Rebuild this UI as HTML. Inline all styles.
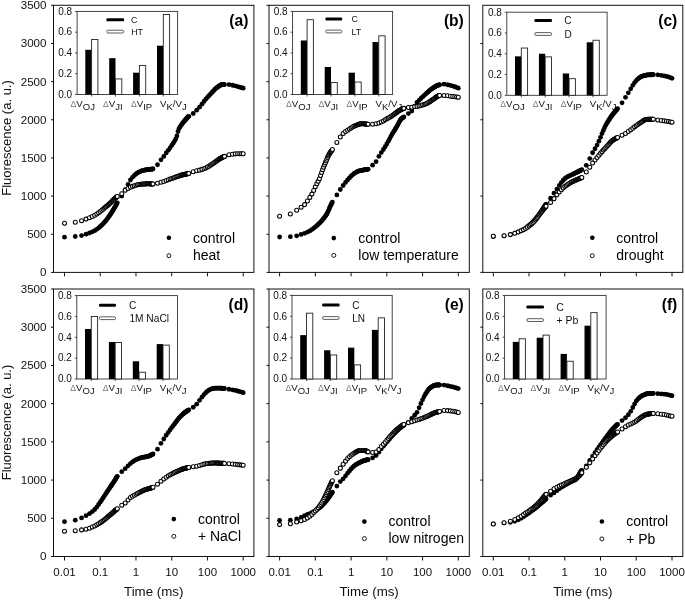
<!DOCTYPE html>
<html><head><meta charset="utf-8"><style>html,body{margin:0;padding:0;background:#fff}svg{display:block;filter:grayscale(1)}</style></head>
<body><svg width="685" height="600" viewBox="0 0 685 600" font-family="'Liberation Sans', sans-serif">
<rect width="685" height="600" fill="#fff"/>
<rect x="53.5" y="5.3" width="200.40" height="267.10" fill="none" stroke="#111" stroke-width="1"/>
<line x1="51.0" y1="272.40" x2="53.5" y2="272.40" stroke="#111" stroke-width="1"/>
<line x1="51.0" y1="234.24" x2="53.5" y2="234.24" stroke="#111" stroke-width="1"/>
<line x1="51.0" y1="196.09" x2="53.5" y2="196.09" stroke="#111" stroke-width="1"/>
<line x1="51.0" y1="157.93" x2="53.5" y2="157.93" stroke="#111" stroke-width="1"/>
<line x1="51.0" y1="119.77" x2="53.5" y2="119.77" stroke="#111" stroke-width="1"/>
<line x1="51.0" y1="81.61" x2="53.5" y2="81.61" stroke="#111" stroke-width="1"/>
<line x1="51.0" y1="43.46" x2="53.5" y2="43.46" stroke="#111" stroke-width="1"/>
<line x1="51.0" y1="5.30" x2="53.5" y2="5.30" stroke="#111" stroke-width="1"/>
<line x1="64.50" y1="272.4" x2="64.50" y2="276.4" stroke="#111" stroke-width="1"/>
<line x1="100.24" y1="272.4" x2="100.24" y2="276.4" stroke="#111" stroke-width="1"/>
<line x1="135.98" y1="272.4" x2="135.98" y2="276.4" stroke="#111" stroke-width="1"/>
<line x1="171.72" y1="272.4" x2="171.72" y2="276.4" stroke="#111" stroke-width="1"/>
<line x1="207.46" y1="272.4" x2="207.46" y2="276.4" stroke="#111" stroke-width="1"/>
<line x1="243.20" y1="272.4" x2="243.20" y2="276.4" stroke="#111" stroke-width="1"/>
<text x="248.4" y="26.1" text-anchor="end" font-size="15.6" font-weight="bold" fill="#000">(a)</text>
<rect x="269.0" y="5.3" width="200.30" height="267.10" fill="none" stroke="#111" stroke-width="1"/>
<line x1="266.5" y1="272.40" x2="269.0" y2="272.40" stroke="#111" stroke-width="1"/>
<line x1="266.5" y1="234.24" x2="269.0" y2="234.24" stroke="#111" stroke-width="1"/>
<line x1="266.5" y1="196.09" x2="269.0" y2="196.09" stroke="#111" stroke-width="1"/>
<line x1="266.5" y1="157.93" x2="269.0" y2="157.93" stroke="#111" stroke-width="1"/>
<line x1="266.5" y1="119.77" x2="269.0" y2="119.77" stroke="#111" stroke-width="1"/>
<line x1="266.5" y1="81.61" x2="269.0" y2="81.61" stroke="#111" stroke-width="1"/>
<line x1="266.5" y1="43.46" x2="269.0" y2="43.46" stroke="#111" stroke-width="1"/>
<line x1="266.5" y1="5.30" x2="269.0" y2="5.30" stroke="#111" stroke-width="1"/>
<line x1="279.60" y1="272.4" x2="279.60" y2="276.4" stroke="#111" stroke-width="1"/>
<line x1="315.34" y1="272.4" x2="315.34" y2="276.4" stroke="#111" stroke-width="1"/>
<line x1="351.08" y1="272.4" x2="351.08" y2="276.4" stroke="#111" stroke-width="1"/>
<line x1="386.82" y1="272.4" x2="386.82" y2="276.4" stroke="#111" stroke-width="1"/>
<line x1="422.56" y1="272.4" x2="422.56" y2="276.4" stroke="#111" stroke-width="1"/>
<line x1="458.30" y1="272.4" x2="458.30" y2="276.4" stroke="#111" stroke-width="1"/>
<text x="463.8" y="26.1" text-anchor="end" font-size="15.6" font-weight="bold" fill="#000">(b)</text>
<rect x="482.8" y="5.3" width="200.00" height="267.10" fill="none" stroke="#111" stroke-width="1"/>
<line x1="480.3" y1="272.40" x2="482.8" y2="272.40" stroke="#111" stroke-width="1"/>
<line x1="480.3" y1="196.09" x2="482.8" y2="196.09" stroke="#111" stroke-width="1"/>
<line x1="480.3" y1="119.77" x2="482.8" y2="119.77" stroke="#111" stroke-width="1"/>
<line x1="480.3" y1="43.46" x2="482.8" y2="43.46" stroke="#111" stroke-width="1"/>
<line x1="493.30" y1="272.4" x2="493.30" y2="276.4" stroke="#111" stroke-width="1"/>
<line x1="529.04" y1="272.4" x2="529.04" y2="276.4" stroke="#111" stroke-width="1"/>
<line x1="564.78" y1="272.4" x2="564.78" y2="276.4" stroke="#111" stroke-width="1"/>
<line x1="600.52" y1="272.4" x2="600.52" y2="276.4" stroke="#111" stroke-width="1"/>
<line x1="636.26" y1="272.4" x2="636.26" y2="276.4" stroke="#111" stroke-width="1"/>
<line x1="672.00" y1="272.4" x2="672.00" y2="276.4" stroke="#111" stroke-width="1"/>
<text x="677.3" y="26.1" text-anchor="end" font-size="15.6" font-weight="bold" fill="#000">(c)</text>
<rect x="53.5" y="289.0" width="200.40" height="267.50" fill="none" stroke="#111" stroke-width="1"/>
<line x1="51.0" y1="556.50" x2="53.5" y2="556.50" stroke="#111" stroke-width="1"/>
<line x1="51.0" y1="518.29" x2="53.5" y2="518.29" stroke="#111" stroke-width="1"/>
<line x1="51.0" y1="480.07" x2="53.5" y2="480.07" stroke="#111" stroke-width="1"/>
<line x1="51.0" y1="441.86" x2="53.5" y2="441.86" stroke="#111" stroke-width="1"/>
<line x1="51.0" y1="403.64" x2="53.5" y2="403.64" stroke="#111" stroke-width="1"/>
<line x1="51.0" y1="365.43" x2="53.5" y2="365.43" stroke="#111" stroke-width="1"/>
<line x1="51.0" y1="327.21" x2="53.5" y2="327.21" stroke="#111" stroke-width="1"/>
<line x1="51.0" y1="289.00" x2="53.5" y2="289.00" stroke="#111" stroke-width="1"/>
<line x1="64.50" y1="556.5" x2="64.50" y2="560.5" stroke="#111" stroke-width="1"/>
<line x1="100.24" y1="556.5" x2="100.24" y2="560.5" stroke="#111" stroke-width="1"/>
<line x1="135.98" y1="556.5" x2="135.98" y2="560.5" stroke="#111" stroke-width="1"/>
<line x1="171.72" y1="556.5" x2="171.72" y2="560.5" stroke="#111" stroke-width="1"/>
<line x1="207.46" y1="556.5" x2="207.46" y2="560.5" stroke="#111" stroke-width="1"/>
<line x1="243.20" y1="556.5" x2="243.20" y2="560.5" stroke="#111" stroke-width="1"/>
<text x="248.4" y="309.8" text-anchor="end" font-size="15.6" font-weight="bold" fill="#000">(d)</text>
<rect x="269.0" y="289.0" width="200.30" height="267.50" fill="none" stroke="#111" stroke-width="1"/>
<line x1="266.5" y1="556.50" x2="269.0" y2="556.50" stroke="#111" stroke-width="1"/>
<line x1="266.5" y1="518.29" x2="269.0" y2="518.29" stroke="#111" stroke-width="1"/>
<line x1="266.5" y1="480.07" x2="269.0" y2="480.07" stroke="#111" stroke-width="1"/>
<line x1="266.5" y1="441.86" x2="269.0" y2="441.86" stroke="#111" stroke-width="1"/>
<line x1="266.5" y1="403.64" x2="269.0" y2="403.64" stroke="#111" stroke-width="1"/>
<line x1="266.5" y1="365.43" x2="269.0" y2="365.43" stroke="#111" stroke-width="1"/>
<line x1="266.5" y1="327.21" x2="269.0" y2="327.21" stroke="#111" stroke-width="1"/>
<line x1="266.5" y1="289.00" x2="269.0" y2="289.00" stroke="#111" stroke-width="1"/>
<line x1="279.60" y1="556.5" x2="279.60" y2="560.5" stroke="#111" stroke-width="1"/>
<line x1="315.34" y1="556.5" x2="315.34" y2="560.5" stroke="#111" stroke-width="1"/>
<line x1="351.08" y1="556.5" x2="351.08" y2="560.5" stroke="#111" stroke-width="1"/>
<line x1="386.82" y1="556.5" x2="386.82" y2="560.5" stroke="#111" stroke-width="1"/>
<line x1="422.56" y1="556.5" x2="422.56" y2="560.5" stroke="#111" stroke-width="1"/>
<line x1="458.30" y1="556.5" x2="458.30" y2="560.5" stroke="#111" stroke-width="1"/>
<text x="463.8" y="309.8" text-anchor="end" font-size="15.6" font-weight="bold" fill="#000">(e)</text>
<rect x="482.8" y="289.0" width="200.00" height="267.50" fill="none" stroke="#111" stroke-width="1"/>
<line x1="480.3" y1="556.50" x2="482.8" y2="556.50" stroke="#111" stroke-width="1"/>
<line x1="480.3" y1="480.07" x2="482.8" y2="480.07" stroke="#111" stroke-width="1"/>
<line x1="480.3" y1="403.64" x2="482.8" y2="403.64" stroke="#111" stroke-width="1"/>
<line x1="480.3" y1="327.21" x2="482.8" y2="327.21" stroke="#111" stroke-width="1"/>
<line x1="493.30" y1="556.5" x2="493.30" y2="560.5" stroke="#111" stroke-width="1"/>
<line x1="529.04" y1="556.5" x2="529.04" y2="560.5" stroke="#111" stroke-width="1"/>
<line x1="564.78" y1="556.5" x2="564.78" y2="560.5" stroke="#111" stroke-width="1"/>
<line x1="600.52" y1="556.5" x2="600.52" y2="560.5" stroke="#111" stroke-width="1"/>
<line x1="636.26" y1="556.5" x2="636.26" y2="560.5" stroke="#111" stroke-width="1"/>
<line x1="672.00" y1="556.5" x2="672.00" y2="560.5" stroke="#111" stroke-width="1"/>
<text x="677.3" y="309.8" text-anchor="end" font-size="15.6" font-weight="bold" fill="#000">(f)</text>
<text x="46.5" y="276.30" text-anchor="end" font-size="11.6" fill="#111">0</text>
<text x="46.5" y="238.14" text-anchor="end" font-size="11.6" fill="#111">500</text>
<text x="46.5" y="199.99" text-anchor="end" font-size="11.6" fill="#111">1000</text>
<text x="46.5" y="161.83" text-anchor="end" font-size="11.6" fill="#111">1500</text>
<text x="46.5" y="123.67" text-anchor="end" font-size="11.6" fill="#111">2000</text>
<text x="46.5" y="85.51" text-anchor="end" font-size="11.6" fill="#111">2500</text>
<text x="46.5" y="47.36" text-anchor="end" font-size="11.6" fill="#111">3000</text>
<text x="46.5" y="9.20" text-anchor="end" font-size="11.6" fill="#111">3500</text>
<text x="46.5" y="560.40" text-anchor="end" font-size="11.6" fill="#111">0</text>
<text x="46.5" y="522.19" text-anchor="end" font-size="11.6" fill="#111">500</text>
<text x="46.5" y="483.97" text-anchor="end" font-size="11.6" fill="#111">1000</text>
<text x="46.5" y="445.76" text-anchor="end" font-size="11.6" fill="#111">1500</text>
<text x="46.5" y="407.54" text-anchor="end" font-size="11.6" fill="#111">2000</text>
<text x="46.5" y="369.33" text-anchor="end" font-size="11.6" fill="#111">2500</text>
<text x="46.5" y="331.11" text-anchor="end" font-size="11.6" fill="#111">3000</text>
<text x="46.5" y="292.90" text-anchor="end" font-size="11.6" fill="#111">3500</text>
<text transform="translate(11.4,138) rotate(-90)" text-anchor="middle" font-size="13" fill="#111">Fluorescence (a. u.)</text>
<text transform="translate(11.4,422.5) rotate(-90)" text-anchor="middle" font-size="13" fill="#111">Fluorescence (a. u.)</text>
<text x="64.50" y="575.7" text-anchor="middle" font-size="11.5" fill="#111">0.01</text>
<text x="100.24" y="575.7" text-anchor="middle" font-size="11.5" fill="#111">0.1</text>
<text x="135.98" y="575.7" text-anchor="middle" font-size="11.5" fill="#111">1</text>
<text x="171.72" y="575.7" text-anchor="middle" font-size="11.5" fill="#111">10</text>
<text x="207.46" y="575.7" text-anchor="middle" font-size="11.5" fill="#111">100</text>
<text x="243.20" y="575.7" text-anchor="middle" font-size="11.5" fill="#111">1000</text>
<text x="153.70" y="596" text-anchor="middle" font-size="13.3" fill="#111">Time (ms)</text>
<text x="279.60" y="575.7" text-anchor="middle" font-size="11.5" fill="#111">0.01</text>
<text x="315.34" y="575.7" text-anchor="middle" font-size="11.5" fill="#111">0.1</text>
<text x="351.08" y="575.7" text-anchor="middle" font-size="11.5" fill="#111">1</text>
<text x="386.82" y="575.7" text-anchor="middle" font-size="11.5" fill="#111">10</text>
<text x="422.56" y="575.7" text-anchor="middle" font-size="11.5" fill="#111">100</text>
<text x="458.30" y="575.7" text-anchor="middle" font-size="11.5" fill="#111">1000</text>
<text x="369.15" y="596" text-anchor="middle" font-size="13.3" fill="#111">Time (ms)</text>
<text x="493.30" y="575.7" text-anchor="middle" font-size="11.5" fill="#111">0.01</text>
<text x="529.04" y="575.7" text-anchor="middle" font-size="11.5" fill="#111">0.1</text>
<text x="564.78" y="575.7" text-anchor="middle" font-size="11.5" fill="#111">1</text>
<text x="600.52" y="575.7" text-anchor="middle" font-size="11.5" fill="#111">10</text>
<text x="636.26" y="575.7" text-anchor="middle" font-size="11.5" fill="#111">100</text>
<text x="672.00" y="575.7" text-anchor="middle" font-size="11.5" fill="#111">1000</text>
<text x="582.80" y="596" text-anchor="middle" font-size="13.3" fill="#111">Time (ms)</text>
<rect x="77.1" y="11.4" width="100.5" height="83.1" fill="none" stroke="#333" stroke-width="0.9"/>
<line x1="75.1" y1="94.50" x2="77.1" y2="94.50" stroke="#333" stroke-width="0.9"/>
<text x="72.20" y="97.80" text-anchor="end" font-size="10" fill="#111">0.0</text>
<line x1="75.1" y1="73.72" x2="77.1" y2="73.72" stroke="#333" stroke-width="0.9"/>
<text x="72.20" y="77.02" text-anchor="end" font-size="10" fill="#111">0.2</text>
<line x1="75.1" y1="52.95" x2="77.1" y2="52.95" stroke="#333" stroke-width="0.9"/>
<text x="72.20" y="56.25" text-anchor="end" font-size="10" fill="#111">0.4</text>
<line x1="75.1" y1="32.17" x2="77.1" y2="32.17" stroke="#333" stroke-width="0.9"/>
<text x="72.20" y="35.47" text-anchor="end" font-size="10" fill="#111">0.6</text>
<line x1="75.1" y1="11.40" x2="77.1" y2="11.40" stroke="#333" stroke-width="0.9"/>
<text x="72.20" y="14.70" text-anchor="end" font-size="10" fill="#111">0.8</text>
<rect x="85.30" y="49.83" width="6.3" height="44.67" fill="#000"/>
<rect x="91.60" y="39.45" width="6.3" height="55.05" fill="#fff" stroke="#222" stroke-width="0.9"/>
<line x1="91.60" y1="94.5" x2="91.60" y2="96.5" stroke="#333" stroke-width="0.9"/>
<rect x="109.20" y="58.14" width="6.3" height="36.36" fill="#000"/>
<rect x="115.50" y="78.92" width="6.3" height="15.58" fill="#fff" stroke="#222" stroke-width="0.9"/>
<line x1="115.50" y1="94.5" x2="115.50" y2="96.5" stroke="#333" stroke-width="0.9"/>
<rect x="133.10" y="72.69" width="6.3" height="21.81" fill="#000"/>
<rect x="139.40" y="65.42" width="6.3" height="29.08" fill="#fff" stroke="#222" stroke-width="0.9"/>
<line x1="139.40" y1="94.5" x2="139.40" y2="96.5" stroke="#333" stroke-width="0.9"/>
<rect x="157.00" y="45.68" width="6.3" height="48.82" fill="#000"/>
<rect x="163.30" y="14.52" width="6.3" height="79.98" fill="#fff" stroke="#222" stroke-width="0.9"/>
<line x1="163.30" y1="94.5" x2="163.30" y2="96.5" stroke="#333" stroke-width="0.9"/>
<rect x="106.4" y="18.35" width="17.70" height="3" rx="1.2" fill="#000"/>
<rect x="106.80000000000001" y="30.20" width="16.90" height="2.8" rx="1.3" fill="#fff" stroke="#333" stroke-width="0.8"/>
<text x="130.90" y="23.22" font-size="8.8" fill="#111">C</text>
<text x="131.20" y="34.97" font-size="8.8" fill="#111">HT</text>
<text x="70.60" y="106.50" font-size="9.7" fill="#111"><tspan font-size="8.6" fill="#777">&#916;</tspan><tspan>V</tspan><tspan dy="3.1" font-size="9.5">OJ</tspan></text>
<text x="103.10" y="106.50" font-size="9.7" fill="#111"><tspan font-size="8.6" fill="#777">&#916;</tspan><tspan>V</tspan><tspan dy="3.1" font-size="9.5">JI</tspan></text>
<text x="131.00" y="106.50" font-size="9.7" fill="#111"><tspan font-size="8.6" fill="#777">&#916;</tspan><tspan>V</tspan><tspan dy="3.1" font-size="9.5">IP</tspan></text>
<text x="160.00" y="106.50" font-size="9.7" fill="#111">V<tspan dy="3.1" font-size="9.5">K</tspan><tspan dy="-3.1">/V</tspan><tspan dy="3.1" font-size="9.5">J</tspan></text>
<rect x="292.6" y="11.4" width="100.0" height="83.1" fill="none" stroke="#333" stroke-width="0.9"/>
<line x1="290.6" y1="94.50" x2="292.6" y2="94.50" stroke="#333" stroke-width="0.9"/>
<text x="287.70" y="97.80" text-anchor="end" font-size="10" fill="#111">0.0</text>
<line x1="290.6" y1="73.72" x2="292.6" y2="73.72" stroke="#333" stroke-width="0.9"/>
<text x="287.70" y="77.02" text-anchor="end" font-size="10" fill="#111">0.2</text>
<line x1="290.6" y1="52.95" x2="292.6" y2="52.95" stroke="#333" stroke-width="0.9"/>
<text x="287.70" y="56.25" text-anchor="end" font-size="10" fill="#111">0.4</text>
<line x1="290.6" y1="32.17" x2="292.6" y2="32.17" stroke="#333" stroke-width="0.9"/>
<text x="287.70" y="35.47" text-anchor="end" font-size="10" fill="#111">0.6</text>
<line x1="290.6" y1="11.40" x2="292.6" y2="11.40" stroke="#333" stroke-width="0.9"/>
<text x="287.70" y="14.70" text-anchor="end" font-size="10" fill="#111">0.8</text>
<rect x="300.80" y="40.49" width="6.3" height="54.01" fill="#000"/>
<rect x="307.10" y="19.71" width="6.3" height="74.79" fill="#fff" stroke="#222" stroke-width="0.9"/>
<line x1="307.10" y1="94.5" x2="307.10" y2="96.5" stroke="#333" stroke-width="0.9"/>
<rect x="324.70" y="66.97" width="6.3" height="27.53" fill="#000"/>
<rect x="331.00" y="82.55" width="6.3" height="11.95" fill="#fff" stroke="#222" stroke-width="0.9"/>
<line x1="331.00" y1="94.5" x2="331.00" y2="96.5" stroke="#333" stroke-width="0.9"/>
<rect x="348.60" y="72.69" width="6.3" height="21.81" fill="#000"/>
<rect x="354.90" y="82.03" width="6.3" height="12.46" fill="#fff" stroke="#222" stroke-width="0.9"/>
<line x1="354.90" y1="94.5" x2="354.90" y2="96.5" stroke="#333" stroke-width="0.9"/>
<rect x="372.50" y="42.04" width="6.3" height="52.46" fill="#000"/>
<rect x="378.80" y="35.81" width="6.3" height="58.69" fill="#fff" stroke="#222" stroke-width="0.9"/>
<line x1="378.80" y1="94.5" x2="378.80" y2="96.5" stroke="#333" stroke-width="0.9"/>
<rect x="325.4" y="17.50" width="16.80" height="3" rx="1.2" fill="#000"/>
<rect x="325.79999999999995" y="30.10" width="16.00" height="2.8" rx="1.3" fill="#fff" stroke="#333" stroke-width="0.8"/>
<text x="351.50" y="22.40" font-size="8.9" fill="#111">C</text>
<text x="351.50" y="34.90" font-size="8.9" fill="#111">LT</text>
<text x="286.10" y="106.50" font-size="9.7" fill="#111"><tspan font-size="8.6" fill="#777">&#916;</tspan><tspan>V</tspan><tspan dy="3.1" font-size="9.5">OJ</tspan></text>
<text x="318.60" y="106.50" font-size="9.7" fill="#111"><tspan font-size="8.6" fill="#777">&#916;</tspan><tspan>V</tspan><tspan dy="3.1" font-size="9.5">JI</tspan></text>
<text x="346.50" y="106.50" font-size="9.7" fill="#111"><tspan font-size="8.6" fill="#777">&#916;</tspan><tspan>V</tspan><tspan dy="3.1" font-size="9.5">IP</tspan></text>
<text x="375.50" y="106.50" font-size="9.7" fill="#111">V<tspan dy="3.1" font-size="9.5">K</tspan><tspan dy="-3.1">/V</tspan><tspan dy="3.1" font-size="9.5">J</tspan></text>
<rect x="506.8" y="12.2" width="100.3" height="83.1" fill="none" stroke="#333" stroke-width="0.9"/>
<line x1="504.8" y1="95.30" x2="506.8" y2="95.30" stroke="#333" stroke-width="0.9"/>
<text x="501.90" y="98.60" text-anchor="end" font-size="10" fill="#111">0.0</text>
<line x1="504.8" y1="74.53" x2="506.8" y2="74.53" stroke="#333" stroke-width="0.9"/>
<text x="501.90" y="77.83" text-anchor="end" font-size="10" fill="#111">0.2</text>
<line x1="504.8" y1="53.75" x2="506.8" y2="53.75" stroke="#333" stroke-width="0.9"/>
<text x="501.90" y="57.05" text-anchor="end" font-size="10" fill="#111">0.4</text>
<line x1="504.8" y1="32.97" x2="506.8" y2="32.97" stroke="#333" stroke-width="0.9"/>
<text x="501.90" y="36.27" text-anchor="end" font-size="10" fill="#111">0.6</text>
<line x1="504.8" y1="12.20" x2="506.8" y2="12.20" stroke="#333" stroke-width="0.9"/>
<text x="501.90" y="15.50" text-anchor="end" font-size="10" fill="#111">0.8</text>
<rect x="515.00" y="56.35" width="6.3" height="38.95" fill="#000"/>
<rect x="521.30" y="48.04" width="6.3" height="47.26" fill="#fff" stroke="#222" stroke-width="0.9"/>
<line x1="521.30" y1="95.3" x2="521.30" y2="97.3" stroke="#333" stroke-width="0.9"/>
<rect x="538.90" y="53.75" width="6.3" height="41.55" fill="#000"/>
<rect x="545.20" y="56.87" width="6.3" height="38.43" fill="#fff" stroke="#222" stroke-width="0.9"/>
<line x1="545.20" y1="95.3" x2="545.20" y2="97.3" stroke="#333" stroke-width="0.9"/>
<rect x="562.80" y="73.49" width="6.3" height="21.81" fill="#000"/>
<rect x="569.10" y="78.68" width="6.3" height="16.62" fill="#fff" stroke="#222" stroke-width="0.9"/>
<line x1="569.10" y1="95.3" x2="569.10" y2="97.3" stroke="#333" stroke-width="0.9"/>
<rect x="586.70" y="42.32" width="6.3" height="52.98" fill="#000"/>
<rect x="593.00" y="40.25" width="6.3" height="55.05" fill="#fff" stroke="#222" stroke-width="0.9"/>
<line x1="593.00" y1="95.3" x2="593.00" y2="97.3" stroke="#333" stroke-width="0.9"/>
<rect x="534.4" y="18.90" width="17.60" height="3" rx="1.2" fill="#000"/>
<rect x="534.8" y="32.60" width="16.80" height="2.8" rx="1.3" fill="#fff" stroke="#333" stroke-width="0.8"/>
<text x="564.20" y="24.20" font-size="10.0" fill="#111">C</text>
<text x="564.40" y="37.80" font-size="10.0" fill="#111">D</text>
<text x="500.30" y="107.30" font-size="9.7" fill="#111"><tspan font-size="8.6" fill="#777">&#916;</tspan><tspan>V</tspan><tspan dy="3.1" font-size="9.5">OJ</tspan></text>
<text x="532.80" y="107.30" font-size="9.7" fill="#111"><tspan font-size="8.6" fill="#777">&#916;</tspan><tspan>V</tspan><tspan dy="3.1" font-size="9.5">JI</tspan></text>
<text x="560.70" y="107.30" font-size="9.7" fill="#111"><tspan font-size="8.6" fill="#777">&#916;</tspan><tspan>V</tspan><tspan dy="3.1" font-size="9.5">IP</tspan></text>
<text x="589.70" y="107.30" font-size="9.7" fill="#111">V<tspan dy="3.1" font-size="9.5">K</tspan><tspan dy="-3.1">/V</tspan><tspan dy="3.1" font-size="9.5">J</tspan></text>
<rect x="76.8" y="295.6" width="100.7" height="83.4" fill="none" stroke="#333" stroke-width="0.9"/>
<line x1="74.8" y1="379.00" x2="76.8" y2="379.00" stroke="#333" stroke-width="0.9"/>
<text x="71.90" y="382.30" text-anchor="end" font-size="10" fill="#111">0.0</text>
<line x1="74.8" y1="358.15" x2="76.8" y2="358.15" stroke="#333" stroke-width="0.9"/>
<text x="71.90" y="361.45" text-anchor="end" font-size="10" fill="#111">0.2</text>
<line x1="74.8" y1="337.30" x2="76.8" y2="337.30" stroke="#333" stroke-width="0.9"/>
<text x="71.90" y="340.60" text-anchor="end" font-size="10" fill="#111">0.4</text>
<line x1="74.8" y1="316.45" x2="76.8" y2="316.45" stroke="#333" stroke-width="0.9"/>
<text x="71.90" y="319.75" text-anchor="end" font-size="10" fill="#111">0.6</text>
<line x1="74.8" y1="295.60" x2="76.8" y2="295.60" stroke="#333" stroke-width="0.9"/>
<text x="71.90" y="298.90" text-anchor="end" font-size="10" fill="#111">0.8</text>
<rect x="85.00" y="328.96" width="6.3" height="50.04" fill="#000"/>
<rect x="91.30" y="316.45" width="6.3" height="62.55" fill="#fff" stroke="#222" stroke-width="0.9"/>
<line x1="91.30" y1="379.0" x2="91.30" y2="381.0" stroke="#333" stroke-width="0.9"/>
<rect x="108.90" y="341.99" width="6.3" height="37.01" fill="#000"/>
<rect x="115.20" y="342.51" width="6.3" height="36.49" fill="#fff" stroke="#222" stroke-width="0.9"/>
<line x1="115.20" y1="379.0" x2="115.20" y2="381.0" stroke="#333" stroke-width="0.9"/>
<rect x="132.80" y="361.28" width="6.3" height="17.72" fill="#000"/>
<rect x="139.10" y="372.22" width="6.3" height="6.78" fill="#fff" stroke="#222" stroke-width="0.9"/>
<line x1="139.10" y1="379.0" x2="139.10" y2="381.0" stroke="#333" stroke-width="0.9"/>
<rect x="156.70" y="344.08" width="6.3" height="34.92" fill="#000"/>
<rect x="163.00" y="345.12" width="6.3" height="33.88" fill="#fff" stroke="#222" stroke-width="0.9"/>
<line x1="163.00" y1="379.0" x2="163.00" y2="381.0" stroke="#333" stroke-width="0.9"/>
<rect x="99" y="303.70" width="17.00" height="3" rx="1.2" fill="#000"/>
<rect x="99.4" y="316.80" width="16.20" height="2.8" rx="1.3" fill="#fff" stroke="#333" stroke-width="0.8"/>
<text x="129.00" y="309.07" font-size="10.2" fill="#111">C</text>
<text x="129.40" y="322.07" font-size="10.2" fill="#111">1M NaCl</text>
<text x="70.30" y="391.00" font-size="9.7" fill="#111"><tspan font-size="8.6" fill="#777">&#916;</tspan><tspan>V</tspan><tspan dy="3.1" font-size="9.5">OJ</tspan></text>
<text x="102.80" y="391.00" font-size="9.7" fill="#111"><tspan font-size="8.6" fill="#777">&#916;</tspan><tspan>V</tspan><tspan dy="3.1" font-size="9.5">JI</tspan></text>
<text x="130.70" y="391.00" font-size="9.7" fill="#111"><tspan font-size="8.6" fill="#777">&#916;</tspan><tspan>V</tspan><tspan dy="3.1" font-size="9.5">IP</tspan></text>
<text x="159.70" y="391.00" font-size="9.7" fill="#111">V<tspan dy="3.1" font-size="9.5">K</tspan><tspan dy="-3.1">/V</tspan><tspan dy="3.1" font-size="9.5">J</tspan></text>
<rect x="292.0" y="295.4" width="100.2" height="83.6" fill="none" stroke="#333" stroke-width="0.9"/>
<line x1="290.0" y1="379.00" x2="292.0" y2="379.00" stroke="#333" stroke-width="0.9"/>
<text x="287.10" y="382.30" text-anchor="end" font-size="10" fill="#111">0.0</text>
<line x1="290.0" y1="358.10" x2="292.0" y2="358.10" stroke="#333" stroke-width="0.9"/>
<text x="287.10" y="361.40" text-anchor="end" font-size="10" fill="#111">0.2</text>
<line x1="290.0" y1="337.20" x2="292.0" y2="337.20" stroke="#333" stroke-width="0.9"/>
<text x="287.10" y="340.50" text-anchor="end" font-size="10" fill="#111">0.4</text>
<line x1="290.0" y1="316.30" x2="292.0" y2="316.30" stroke="#333" stroke-width="0.9"/>
<text x="287.10" y="319.60" text-anchor="end" font-size="10" fill="#111">0.6</text>
<line x1="290.0" y1="295.40" x2="292.0" y2="295.40" stroke="#333" stroke-width="0.9"/>
<text x="287.10" y="298.70" text-anchor="end" font-size="10" fill="#111">0.8</text>
<rect x="300.20" y="335.11" width="6.3" height="43.89" fill="#000"/>
<rect x="306.50" y="313.17" width="6.3" height="65.83" fill="#fff" stroke="#222" stroke-width="0.9"/>
<line x1="306.50" y1="379.0" x2="306.50" y2="381.0" stroke="#333" stroke-width="0.9"/>
<rect x="324.10" y="350.26" width="6.3" height="28.74" fill="#000"/>
<rect x="330.40" y="354.97" width="6.3" height="24.03" fill="#fff" stroke="#222" stroke-width="0.9"/>
<line x1="330.40" y1="379.0" x2="330.40" y2="381.0" stroke="#333" stroke-width="0.9"/>
<rect x="348.00" y="347.65" width="6.3" height="31.35" fill="#000"/>
<rect x="354.30" y="364.89" width="6.3" height="14.11" fill="#fff" stroke="#222" stroke-width="0.9"/>
<line x1="354.30" y1="379.0" x2="354.30" y2="381.0" stroke="#333" stroke-width="0.9"/>
<rect x="371.90" y="329.88" width="6.3" height="49.11" fill="#000"/>
<rect x="378.20" y="317.87" width="6.3" height="61.13" fill="#fff" stroke="#222" stroke-width="0.9"/>
<line x1="378.20" y1="379.0" x2="378.20" y2="381.0" stroke="#333" stroke-width="0.9"/>
<rect x="322.1" y="303.50" width="17.50" height="3" rx="1.2" fill="#000"/>
<rect x="322.5" y="316.60" width="16.70" height="2.8" rx="1.3" fill="#fff" stroke="#333" stroke-width="0.8"/>
<text x="352.20" y="308.80" font-size="10.0" fill="#111">C</text>
<text x="352.20" y="321.80" font-size="10.0" fill="#111">LN</text>
<text x="285.50" y="391.00" font-size="9.7" fill="#111"><tspan font-size="8.6" fill="#777">&#916;</tspan><tspan>V</tspan><tspan dy="3.1" font-size="9.5">OJ</tspan></text>
<text x="318.00" y="391.00" font-size="9.7" fill="#111"><tspan font-size="8.6" fill="#777">&#916;</tspan><tspan>V</tspan><tspan dy="3.1" font-size="9.5">JI</tspan></text>
<text x="345.90" y="391.00" font-size="9.7" fill="#111"><tspan font-size="8.6" fill="#777">&#916;</tspan><tspan>V</tspan><tspan dy="3.1" font-size="9.5">IP</tspan></text>
<text x="374.90" y="391.00" font-size="9.7" fill="#111">V<tspan dy="3.1" font-size="9.5">K</tspan><tspan dy="-3.1">/V</tspan><tspan dy="3.1" font-size="9.5">J</tspan></text>
<rect x="504.6" y="295.4" width="101.5" height="83.6" fill="none" stroke="#333" stroke-width="0.9"/>
<line x1="502.6" y1="379.00" x2="504.6" y2="379.00" stroke="#333" stroke-width="0.9"/>
<text x="499.70" y="382.30" text-anchor="end" font-size="10" fill="#111">0.0</text>
<line x1="502.6" y1="358.10" x2="504.6" y2="358.10" stroke="#333" stroke-width="0.9"/>
<text x="499.70" y="361.40" text-anchor="end" font-size="10" fill="#111">0.2</text>
<line x1="502.6" y1="337.20" x2="504.6" y2="337.20" stroke="#333" stroke-width="0.9"/>
<text x="499.70" y="340.50" text-anchor="end" font-size="10" fill="#111">0.4</text>
<line x1="502.6" y1="316.30" x2="504.6" y2="316.30" stroke="#333" stroke-width="0.9"/>
<text x="499.70" y="319.60" text-anchor="end" font-size="10" fill="#111">0.6</text>
<line x1="502.6" y1="295.40" x2="504.6" y2="295.40" stroke="#333" stroke-width="0.9"/>
<text x="499.70" y="298.70" text-anchor="end" font-size="10" fill="#111">0.8</text>
<rect x="512.80" y="341.90" width="6.3" height="37.10" fill="#000"/>
<rect x="519.10" y="338.77" width="6.3" height="40.23" fill="#fff" stroke="#222" stroke-width="0.9"/>
<line x1="519.10" y1="379.0" x2="519.10" y2="381.0" stroke="#333" stroke-width="0.9"/>
<rect x="536.70" y="337.72" width="6.3" height="41.28" fill="#000"/>
<rect x="543.00" y="335.11" width="6.3" height="43.89" fill="#fff" stroke="#222" stroke-width="0.9"/>
<line x1="543.00" y1="379.0" x2="543.00" y2="381.0" stroke="#333" stroke-width="0.9"/>
<rect x="560.60" y="353.92" width="6.3" height="25.08" fill="#000"/>
<rect x="566.90" y="361.24" width="6.3" height="17.77" fill="#fff" stroke="#222" stroke-width="0.9"/>
<line x1="566.90" y1="379.0" x2="566.90" y2="381.0" stroke="#333" stroke-width="0.9"/>
<rect x="584.50" y="325.70" width="6.3" height="53.29" fill="#000"/>
<rect x="590.80" y="312.64" width="6.3" height="66.36" fill="#fff" stroke="#222" stroke-width="0.9"/>
<line x1="590.80" y1="379.0" x2="590.80" y2="381.0" stroke="#333" stroke-width="0.9"/>
<rect x="526.4" y="305.50" width="17.60" height="3" rx="1.2" fill="#000"/>
<rect x="526.8" y="318.70" width="16.80" height="2.8" rx="1.3" fill="#fff" stroke="#333" stroke-width="0.8"/>
<text x="556.20" y="310.98" font-size="10.5" fill="#111">C</text>
<text x="556.40" y="324.08" font-size="10.5" fill="#111">+ Pb</text>
<text x="498.10" y="391.00" font-size="9.7" fill="#111"><tspan font-size="8.6" fill="#777">&#916;</tspan><tspan>V</tspan><tspan dy="3.1" font-size="9.5">OJ</tspan></text>
<text x="530.60" y="391.00" font-size="9.7" fill="#111"><tspan font-size="8.6" fill="#777">&#916;</tspan><tspan>V</tspan><tspan dy="3.1" font-size="9.5">JI</tspan></text>
<text x="558.50" y="391.00" font-size="9.7" fill="#111"><tspan font-size="8.6" fill="#777">&#916;</tspan><tspan>V</tspan><tspan dy="3.1" font-size="9.5">IP</tspan></text>
<text x="587.50" y="391.00" font-size="9.7" fill="#111">V<tspan dy="3.1" font-size="9.5">K</tspan><tspan dy="-3.1">/V</tspan><tspan dy="3.1" font-size="9.5">J</tspan></text>
<g fill="#000"><circle cx="64.50" cy="237.20" r="2.4"/><circle cx="75.26" cy="236.48" r="2.4"/><circle cx="81.55" cy="235.55" r="2.4"/><circle cx="86.02" cy="234.13" r="2.4"/><circle cx="89.48" cy="232.99" r="2.4"/><circle cx="92.31" cy="231.85" r="2.4"/><circle cx="94.70" cy="230.67" r="2.4"/><circle cx="96.78" cy="229.33" r="2.4"/><circle cx="98.60" cy="227.89" r="2.4"/><circle cx="100.24" cy="226.49" r="2.4"/><circle cx="101.72" cy="225.14" r="2.4"/><circle cx="103.07" cy="223.80" r="2.4"/><circle cx="104.31" cy="222.47" r="2.4"/><circle cx="105.46" cy="221.16" r="2.4"/><circle cx="106.53" cy="219.83" r="2.4"/><circle cx="107.54" cy="218.50" r="2.4"/><circle cx="108.48" cy="217.19" r="2.4"/><circle cx="109.36" cy="215.93" r="2.4"/><circle cx="110.20" cy="214.70" r="2.4"/><circle cx="111.00" cy="213.50" r="2.4"/><circle cx="111.76" cy="212.31" r="2.4"/><circle cx="112.48" cy="211.15" r="2.4"/><circle cx="113.17" cy="210.02" r="2.4"/><circle cx="113.83" cy="208.92" r="2.4"/><circle cx="114.46" cy="207.85" r="2.4"/><circle cx="115.07" cy="206.79" r="2.4"/><circle cx="115.66" cy="205.73" r="2.4"/><circle cx="116.22" cy="204.71" r="2.4"/><circle cx="116.77" cy="203.75" r="2.4"/><circle cx="117.29" cy="202.84" r="2.4"/><circle cx="121.76" cy="196.04" r="2.4"/><circle cx="125.22" cy="189.73" r="2.4"/><circle cx="128.05" cy="184.38" r="2.4"/><circle cx="130.44" cy="180.01" r="2.4"/><circle cx="132.52" cy="177.36" r="2.4"/><circle cx="134.34" cy="175.42" r="2.4"/><circle cx="135.98" cy="174.02" r="2.4"/><circle cx="137.46" cy="173.00" r="2.4"/><circle cx="138.81" cy="172.19" r="2.4"/><circle cx="140.05" cy="171.54" r="2.4"/><circle cx="141.20" cy="171.03" r="2.4"/><circle cx="142.27" cy="170.66" r="2.4"/><circle cx="143.28" cy="170.40" r="2.4"/><circle cx="144.22" cy="170.19" r="2.4"/><circle cx="145.10" cy="170.02" r="2.4"/><circle cx="145.94" cy="169.88" r="2.4"/><circle cx="146.74" cy="169.75" r="2.4"/><circle cx="147.50" cy="169.64" r="2.4"/><circle cx="148.22" cy="169.53" r="2.4"/><circle cx="148.91" cy="169.43" r="2.4"/><circle cx="149.57" cy="169.36" r="2.4"/><circle cx="150.20" cy="169.29" r="2.4"/><circle cx="150.81" cy="169.24" r="2.4"/><circle cx="151.40" cy="169.17" r="2.4"/><circle cx="151.96" cy="169.10" r="2.4"/><circle cx="152.51" cy="169.00" r="2.4"/><circle cx="153.03" cy="168.89" r="2.4"/><circle cx="157.50" cy="164.74" r="2.4"/><circle cx="160.96" cy="159.81" r="2.4"/><circle cx="163.79" cy="156.41" r="2.4"/><circle cx="166.18" cy="152.94" r="2.4"/><circle cx="168.26" cy="150.28" r="2.4"/><circle cx="170.08" cy="147.85" r="2.4"/><circle cx="171.72" cy="145.44" r="2.4"/><circle cx="173.20" cy="143.13" r="2.4"/><circle cx="174.55" cy="141.10" r="2.4"/><circle cx="175.79" cy="138.93" r="2.4"/><circle cx="176.94" cy="135.90" r="2.4"/><circle cx="178.01" cy="131.50" r="2.4"/><circle cx="179.02" cy="128.62" r="2.4"/><circle cx="179.96" cy="126.89" r="2.4"/><circle cx="180.84" cy="125.57" r="2.4"/><circle cx="181.68" cy="124.43" r="2.4"/><circle cx="182.48" cy="123.36" r="2.4"/><circle cx="183.24" cy="122.40" r="2.4"/><circle cx="183.96" cy="121.54" r="2.4"/><circle cx="184.65" cy="120.75" r="2.4"/><circle cx="185.31" cy="119.99" r="2.4"/><circle cx="185.94" cy="119.24" r="2.4"/><circle cx="186.55" cy="118.52" r="2.4"/><circle cx="187.14" cy="117.84" r="2.4"/><circle cx="187.70" cy="117.25" r="2.4"/><circle cx="188.25" cy="116.74" r="2.4"/><circle cx="188.77" cy="116.33" r="2.4"/><circle cx="193.24" cy="113.51" r="2.4"/><circle cx="196.70" cy="110.20" r="2.4"/><circle cx="199.53" cy="107.14" r="2.4"/><circle cx="201.92" cy="104.22" r="2.4"/><circle cx="204.00" cy="101.38" r="2.4"/><circle cx="205.82" cy="99.13" r="2.4"/><circle cx="207.46" cy="97.31" r="2.4"/><circle cx="208.94" cy="95.75" r="2.4"/><circle cx="210.29" cy="94.34" r="2.4"/><circle cx="211.53" cy="93.02" r="2.4"/><circle cx="212.68" cy="91.74" r="2.4"/><circle cx="213.75" cy="90.55" r="2.4"/><circle cx="214.76" cy="89.50" r="2.4"/><circle cx="215.70" cy="88.60" r="2.4"/><circle cx="216.58" cy="87.88" r="2.4"/><circle cx="217.42" cy="87.27" r="2.4"/><circle cx="218.22" cy="86.68" r="2.4"/><circle cx="218.98" cy="86.13" r="2.4"/><circle cx="219.70" cy="85.65" r="2.4"/><circle cx="220.39" cy="85.24" r="2.4"/><circle cx="221.05" cy="84.93" r="2.4"/><circle cx="221.68" cy="84.72" r="2.4"/><circle cx="222.29" cy="84.61" r="2.4"/><circle cx="222.88" cy="84.60" r="2.4"/><circle cx="223.44" cy="84.60" r="2.4"/><circle cx="223.99" cy="84.60" r="2.4"/><circle cx="224.51" cy="84.60" r="2.4"/><circle cx="228.98" cy="84.62" r="2.4"/><circle cx="232.44" cy="85.27" r="2.4"/><circle cx="235.27" cy="85.96" r="2.4"/><circle cx="237.66" cy="86.61" r="2.4"/><circle cx="239.74" cy="87.20" r="2.4"/><circle cx="241.56" cy="87.69" r="2.4"/><circle cx="243.20" cy="88.13" r="2.4"/></g>
<g fill="#fff" stroke="#000" stroke-width="1.05"><circle cx="64.50" cy="223.20" r="2.0"/><circle cx="75.26" cy="222.26" r="2.0"/><circle cx="81.55" cy="220.70" r="2.0"/><circle cx="86.02" cy="219.12" r="2.0"/><circle cx="89.48" cy="217.73" r="2.0"/><circle cx="92.31" cy="216.42" r="2.0"/><circle cx="94.70" cy="215.17" r="2.0"/><circle cx="96.78" cy="213.93" r="2.0"/><circle cx="98.60" cy="212.70" r="2.0"/><circle cx="100.24" cy="211.52" r="2.0"/><circle cx="101.72" cy="210.33" r="2.0"/><circle cx="103.07" cy="209.17" r="2.0"/><circle cx="104.31" cy="208.09" r="2.0"/><circle cx="105.46" cy="207.11" r="2.0"/><circle cx="106.53" cy="206.24" r="2.0"/><circle cx="107.54" cy="205.42" r="2.0"/><circle cx="108.48" cy="204.64" r="2.0"/><circle cx="109.36" cy="203.87" r="2.0"/><circle cx="110.20" cy="203.11" r="2.0"/><circle cx="111.00" cy="202.33" r="2.0"/><circle cx="111.76" cy="201.55" r="2.0"/><circle cx="112.48" cy="200.81" r="2.0"/><circle cx="113.17" cy="200.12" r="2.0"/><circle cx="113.83" cy="199.50" r="2.0"/><circle cx="114.46" cy="198.90" r="2.0"/><circle cx="115.07" cy="198.34" r="2.0"/><circle cx="115.66" cy="197.81" r="2.0"/><circle cx="116.22" cy="197.32" r="2.0"/><circle cx="116.77" cy="196.86" r="2.0"/><circle cx="117.29" cy="196.45" r="2.0"/><circle cx="121.76" cy="193.66" r="2.0"/><circle cx="125.22" cy="190.34" r="2.0"/><circle cx="128.05" cy="188.50" r="2.0"/><circle cx="130.44" cy="187.29" r="2.0"/><circle cx="132.52" cy="186.38" r="2.0"/><circle cx="134.34" cy="185.67" r="2.0"/><circle cx="135.98" cy="185.17" r="2.0"/><circle cx="137.46" cy="184.84" r="2.0"/><circle cx="138.81" cy="184.58" r="2.0"/><circle cx="140.05" cy="184.37" r="2.0"/><circle cx="141.20" cy="184.20" r="2.0"/><circle cx="142.27" cy="184.08" r="2.0"/><circle cx="143.28" cy="184.00" r="2.0"/><circle cx="144.22" cy="183.94" r="2.0"/><circle cx="145.10" cy="183.90" r="2.0"/><circle cx="145.94" cy="183.86" r="2.0"/><circle cx="146.74" cy="183.83" r="2.0"/><circle cx="147.50" cy="183.81" r="2.0"/><circle cx="148.22" cy="183.80" r="2.0"/><circle cx="148.91" cy="183.81" r="2.0"/><circle cx="149.57" cy="183.84" r="2.0"/><circle cx="150.20" cy="183.87" r="2.0"/><circle cx="150.81" cy="183.91" r="2.0"/><circle cx="151.40" cy="183.95" r="2.0"/><circle cx="151.96" cy="183.98" r="2.0"/><circle cx="152.51" cy="183.99" r="2.0"/><circle cx="153.03" cy="184.00" r="2.0"/><circle cx="157.50" cy="183.20" r="2.0"/><circle cx="160.96" cy="182.29" r="2.0"/><circle cx="163.79" cy="181.40" r="2.0"/><circle cx="166.18" cy="180.59" r="2.0"/><circle cx="168.26" cy="179.81" r="2.0"/><circle cx="170.08" cy="179.10" r="2.0"/><circle cx="171.72" cy="178.47" r="2.0"/><circle cx="173.20" cy="177.93" r="2.0"/><circle cx="174.55" cy="177.45" r="2.0"/><circle cx="175.79" cy="177.00" r="2.0"/><circle cx="176.94" cy="176.60" r="2.0"/><circle cx="178.01" cy="176.23" r="2.0"/><circle cx="179.02" cy="175.90" r="2.0"/><circle cx="179.96" cy="175.60" r="2.0"/><circle cx="180.84" cy="175.33" r="2.0"/><circle cx="181.68" cy="175.09" r="2.0"/><circle cx="182.48" cy="174.88" r="2.0"/><circle cx="183.24" cy="174.69" r="2.0"/><circle cx="183.96" cy="174.53" r="2.0"/><circle cx="184.65" cy="174.39" r="2.0"/><circle cx="185.31" cy="174.25" r="2.0"/><circle cx="185.94" cy="174.12" r="2.0"/><circle cx="186.55" cy="173.99" r="2.0"/><circle cx="187.14" cy="173.86" r="2.0"/><circle cx="187.70" cy="173.72" r="2.0"/><circle cx="188.25" cy="173.57" r="2.0"/><circle cx="188.77" cy="173.42" r="2.0"/><circle cx="193.24" cy="171.72" r="2.0"/><circle cx="196.70" cy="170.84" r="2.0"/><circle cx="199.53" cy="170.14" r="2.0"/><circle cx="201.92" cy="169.39" r="2.0"/><circle cx="204.00" cy="168.65" r="2.0"/><circle cx="205.82" cy="167.90" r="2.0"/><circle cx="207.46" cy="167.12" r="2.0"/><circle cx="208.94" cy="166.25" r="2.0"/><circle cx="210.29" cy="165.37" r="2.0"/><circle cx="211.53" cy="164.51" r="2.0"/><circle cx="212.68" cy="163.72" r="2.0"/><circle cx="213.75" cy="162.99" r="2.0"/><circle cx="214.76" cy="162.28" r="2.0"/><circle cx="215.70" cy="161.58" r="2.0"/><circle cx="216.58" cy="160.91" r="2.0"/><circle cx="217.42" cy="160.30" r="2.0"/><circle cx="218.22" cy="159.73" r="2.0"/><circle cx="218.98" cy="159.22" r="2.0"/><circle cx="219.70" cy="158.77" r="2.0"/><circle cx="220.39" cy="158.38" r="2.0"/><circle cx="221.05" cy="158.02" r="2.0"/><circle cx="221.68" cy="157.69" r="2.0"/><circle cx="222.29" cy="157.39" r="2.0"/><circle cx="222.88" cy="157.11" r="2.0"/><circle cx="223.44" cy="156.85" r="2.0"/><circle cx="223.99" cy="156.61" r="2.0"/><circle cx="224.51" cy="156.39" r="2.0"/><circle cx="228.98" cy="154.82" r="2.0"/><circle cx="232.44" cy="154.18" r="2.0"/><circle cx="235.27" cy="153.85" r="2.0"/><circle cx="237.66" cy="153.80" r="2.0"/><circle cx="239.74" cy="153.80" r="2.0"/><circle cx="241.56" cy="153.80" r="2.0"/><circle cx="243.20" cy="153.80" r="2.0"/></g>
<g fill="#000"><circle cx="279.60" cy="237.00" r="2.4"/><circle cx="290.36" cy="236.68" r="2.4"/><circle cx="296.65" cy="235.81" r="2.4"/><circle cx="301.12" cy="234.40" r="2.4"/><circle cx="304.58" cy="233.28" r="2.4"/><circle cx="307.41" cy="232.18" r="2.4"/><circle cx="309.80" cy="230.89" r="2.4"/><circle cx="311.88" cy="229.58" r="2.4"/><circle cx="313.70" cy="228.27" r="2.4"/><circle cx="315.34" cy="226.96" r="2.4"/><circle cx="316.82" cy="225.70" r="2.4"/><circle cx="318.17" cy="224.46" r="2.4"/><circle cx="319.41" cy="223.25" r="2.4"/><circle cx="320.56" cy="222.06" r="2.4"/><circle cx="321.63" cy="220.88" r="2.4"/><circle cx="322.64" cy="219.72" r="2.4"/><circle cx="323.58" cy="218.60" r="2.4"/><circle cx="324.46" cy="217.47" r="2.4"/><circle cx="325.30" cy="216.33" r="2.4"/><circle cx="326.10" cy="215.16" r="2.4"/><circle cx="326.86" cy="213.94" r="2.4"/><circle cx="327.58" cy="212.56" r="2.4"/><circle cx="328.27" cy="211.07" r="2.4"/><circle cx="328.93" cy="209.53" r="2.4"/><circle cx="329.56" cy="208.02" r="2.4"/><circle cx="330.17" cy="206.57" r="2.4"/><circle cx="330.76" cy="205.24" r="2.4"/><circle cx="331.32" cy="204.04" r="2.4"/><circle cx="331.87" cy="202.99" r="2.4"/><circle cx="332.39" cy="202.05" r="2.4"/><circle cx="336.86" cy="194.91" r="2.4"/><circle cx="340.32" cy="189.52" r="2.4"/><circle cx="343.15" cy="185.50" r="2.4"/><circle cx="345.54" cy="182.43" r="2.4"/><circle cx="347.62" cy="179.96" r="2.4"/><circle cx="349.44" cy="177.94" r="2.4"/><circle cx="351.08" cy="176.19" r="2.4"/><circle cx="352.56" cy="174.80" r="2.4"/><circle cx="353.91" cy="173.75" r="2.4"/><circle cx="355.15" cy="172.86" r="2.4"/><circle cx="356.30" cy="172.13" r="2.4"/><circle cx="357.37" cy="171.57" r="2.4"/><circle cx="358.38" cy="171.18" r="2.4"/><circle cx="359.32" cy="170.89" r="2.4"/><circle cx="360.20" cy="170.66" r="2.4"/><circle cx="361.04" cy="170.47" r="2.4"/><circle cx="361.84" cy="170.31" r="2.4"/><circle cx="362.60" cy="170.16" r="2.4"/><circle cx="363.32" cy="170.03" r="2.4"/><circle cx="364.01" cy="169.90" r="2.4"/><circle cx="364.67" cy="169.77" r="2.4"/><circle cx="365.30" cy="169.64" r="2.4"/><circle cx="365.91" cy="169.54" r="2.4"/><circle cx="366.50" cy="169.45" r="2.4"/><circle cx="367.06" cy="169.37" r="2.4"/><circle cx="367.61" cy="169.29" r="2.4"/><circle cx="368.13" cy="169.20" r="2.4"/><circle cx="372.60" cy="165.18" r="2.4"/><circle cx="376.06" cy="161.64" r="2.4"/><circle cx="378.89" cy="156.37" r="2.4"/><circle cx="381.28" cy="152.59" r="2.4"/><circle cx="383.36" cy="149.49" r="2.4"/><circle cx="385.18" cy="146.67" r="2.4"/><circle cx="386.82" cy="144.00" r="2.4"/><circle cx="388.30" cy="141.33" r="2.4"/><circle cx="389.65" cy="138.78" r="2.4"/><circle cx="390.89" cy="136.45" r="2.4"/><circle cx="392.04" cy="134.41" r="2.4"/><circle cx="393.11" cy="132.60" r="2.4"/><circle cx="394.12" cy="130.95" r="2.4"/><circle cx="395.06" cy="129.41" r="2.4"/><circle cx="395.94" cy="127.96" r="2.4"/><circle cx="396.78" cy="126.56" r="2.4"/><circle cx="397.58" cy="125.13" r="2.4"/><circle cx="398.34" cy="123.68" r="2.4"/><circle cx="399.06" cy="122.31" r="2.4"/><circle cx="399.75" cy="121.07" r="2.4"/><circle cx="400.41" cy="120.01" r="2.4"/><circle cx="401.04" cy="119.18" r="2.4"/><circle cx="401.65" cy="118.56" r="2.4"/><circle cx="402.24" cy="118.07" r="2.4"/><circle cx="402.80" cy="117.66" r="2.4"/><circle cx="403.35" cy="117.30" r="2.4"/><circle cx="403.87" cy="116.97" r="2.4"/><circle cx="408.34" cy="113.53" r="2.4"/><circle cx="411.80" cy="111.00" r="2.4"/><circle cx="414.63" cy="106.19" r="2.4"/><circle cx="417.02" cy="102.37" r="2.4"/><circle cx="419.10" cy="100.28" r="2.4"/><circle cx="420.92" cy="98.50" r="2.4"/><circle cx="422.56" cy="96.96" r="2.4"/><circle cx="424.04" cy="95.58" r="2.4"/><circle cx="425.39" cy="94.32" r="2.4"/><circle cx="426.63" cy="93.18" r="2.4"/><circle cx="427.78" cy="92.15" r="2.4"/><circle cx="428.85" cy="91.20" r="2.4"/><circle cx="429.86" cy="90.34" r="2.4"/><circle cx="430.80" cy="89.58" r="2.4"/><circle cx="431.68" cy="88.92" r="2.4"/><circle cx="432.52" cy="88.35" r="2.4"/><circle cx="433.32" cy="87.84" r="2.4"/><circle cx="434.08" cy="87.37" r="2.4"/><circle cx="434.80" cy="86.94" r="2.4"/><circle cx="435.49" cy="86.51" r="2.4"/><circle cx="436.15" cy="86.09" r="2.4"/><circle cx="436.78" cy="85.72" r="2.4"/><circle cx="437.39" cy="85.42" r="2.4"/><circle cx="437.98" cy="85.21" r="2.4"/><circle cx="438.54" cy="85.05" r="2.4"/><circle cx="439.09" cy="84.90" r="2.4"/><circle cx="439.61" cy="84.77" r="2.4"/><circle cx="444.08" cy="84.21" r="2.4"/><circle cx="447.54" cy="84.74" r="2.4"/><circle cx="450.37" cy="85.42" r="2.4"/><circle cx="452.76" cy="86.06" r="2.4"/><circle cx="454.84" cy="86.74" r="2.4"/><circle cx="456.66" cy="87.46" r="2.4"/><circle cx="458.30" cy="88.20" r="2.4"/></g>
<g fill="#fff" stroke="#000" stroke-width="1.05"><circle cx="279.60" cy="216.30" r="2.0"/><circle cx="290.36" cy="214.08" r="2.0"/><circle cx="296.65" cy="210.33" r="2.0"/><circle cx="301.12" cy="207.27" r="2.0"/><circle cx="304.58" cy="204.61" r="2.0"/><circle cx="307.41" cy="201.04" r="2.0"/><circle cx="309.80" cy="197.39" r="2.0"/><circle cx="311.88" cy="194.11" r="2.0"/><circle cx="313.70" cy="190.50" r="2.0"/><circle cx="315.34" cy="186.78" r="2.0"/><circle cx="316.82" cy="183.84" r="2.0"/><circle cx="318.17" cy="181.35" r="2.0"/><circle cx="319.41" cy="178.70" r="2.0"/><circle cx="320.56" cy="175.59" r="2.0"/><circle cx="321.63" cy="172.43" r="2.0"/><circle cx="322.64" cy="169.64" r="2.0"/><circle cx="323.58" cy="167.19" r="2.0"/><circle cx="324.46" cy="164.94" r="2.0"/><circle cx="325.30" cy="162.88" r="2.0"/><circle cx="326.10" cy="160.99" r="2.0"/><circle cx="326.86" cy="159.20" r="2.0"/><circle cx="327.58" cy="157.53" r="2.0"/><circle cx="328.27" cy="156.02" r="2.0"/><circle cx="328.93" cy="154.70" r="2.0"/><circle cx="329.56" cy="153.58" r="2.0"/><circle cx="330.17" cy="152.64" r="2.0"/><circle cx="330.76" cy="151.79" r="2.0"/><circle cx="331.32" cy="150.99" r="2.0"/><circle cx="331.87" cy="150.20" r="2.0"/><circle cx="332.39" cy="149.40" r="2.0"/><circle cx="336.86" cy="142.41" r="2.0"/><circle cx="340.32" cy="137.06" r="2.0"/><circle cx="343.15" cy="133.52" r="2.0"/><circle cx="345.54" cy="131.46" r="2.0"/><circle cx="347.62" cy="130.15" r="2.0"/><circle cx="349.44" cy="129.05" r="2.0"/><circle cx="351.08" cy="128.00" r="2.0"/><circle cx="352.56" cy="127.07" r="2.0"/><circle cx="353.91" cy="126.31" r="2.0"/><circle cx="355.15" cy="125.74" r="2.0"/><circle cx="356.30" cy="125.24" r="2.0"/><circle cx="357.37" cy="124.79" r="2.0"/><circle cx="358.38" cy="124.40" r="2.0"/><circle cx="359.32" cy="124.08" r="2.0"/><circle cx="360.20" cy="123.86" r="2.0"/><circle cx="361.04" cy="123.73" r="2.0"/><circle cx="361.84" cy="123.70" r="2.0"/><circle cx="362.60" cy="123.73" r="2.0"/><circle cx="363.32" cy="123.78" r="2.0"/><circle cx="364.01" cy="123.84" r="2.0"/><circle cx="364.67" cy="123.91" r="2.0"/><circle cx="365.30" cy="123.98" r="2.0"/><circle cx="365.91" cy="124.05" r="2.0"/><circle cx="366.50" cy="124.11" r="2.0"/><circle cx="367.06" cy="124.15" r="2.0"/><circle cx="367.61" cy="124.18" r="2.0"/><circle cx="368.13" cy="124.20" r="2.0"/><circle cx="372.60" cy="124.20" r="2.0"/><circle cx="376.06" cy="123.83" r="2.0"/><circle cx="378.89" cy="122.97" r="2.0"/><circle cx="381.28" cy="122.08" r="2.0"/><circle cx="383.36" cy="120.95" r="2.0"/><circle cx="385.18" cy="119.82" r="2.0"/><circle cx="386.82" cy="118.83" r="2.0"/><circle cx="388.30" cy="117.97" r="2.0"/><circle cx="389.65" cy="117.18" r="2.0"/><circle cx="390.89" cy="116.44" r="2.0"/><circle cx="392.04" cy="115.72" r="2.0"/><circle cx="393.11" cy="115.02" r="2.0"/><circle cx="394.12" cy="114.32" r="2.0"/><circle cx="395.06" cy="113.60" r="2.0"/><circle cx="395.94" cy="112.89" r="2.0"/><circle cx="396.78" cy="112.23" r="2.0"/><circle cx="397.58" cy="111.64" r="2.0"/><circle cx="398.34" cy="111.12" r="2.0"/><circle cx="399.06" cy="110.69" r="2.0"/><circle cx="399.75" cy="110.28" r="2.0"/><circle cx="400.41" cy="109.91" r="2.0"/><circle cx="401.04" cy="109.56" r="2.0"/><circle cx="401.65" cy="109.25" r="2.0"/><circle cx="402.24" cy="108.97" r="2.0"/><circle cx="402.80" cy="108.73" r="2.0"/><circle cx="403.35" cy="108.54" r="2.0"/><circle cx="403.87" cy="108.38" r="2.0"/><circle cx="408.34" cy="107.52" r="2.0"/><circle cx="411.80" cy="107.16" r="2.0"/><circle cx="414.63" cy="106.84" r="2.0"/><circle cx="417.02" cy="106.41" r="2.0"/><circle cx="419.10" cy="105.95" r="2.0"/><circle cx="420.92" cy="105.49" r="2.0"/><circle cx="422.56" cy="105.04" r="2.0"/><circle cx="424.04" cy="104.58" r="2.0"/><circle cx="425.39" cy="104.10" r="2.0"/><circle cx="426.63" cy="103.59" r="2.0"/><circle cx="427.78" cy="102.99" r="2.0"/><circle cx="428.85" cy="102.33" r="2.0"/><circle cx="429.86" cy="101.63" r="2.0"/><circle cx="430.80" cy="100.96" r="2.0"/><circle cx="431.68" cy="100.32" r="2.0"/><circle cx="432.52" cy="99.74" r="2.0"/><circle cx="433.32" cy="99.22" r="2.0"/><circle cx="434.08" cy="98.70" r="2.0"/><circle cx="434.80" cy="98.15" r="2.0"/><circle cx="435.49" cy="97.61" r="2.0"/><circle cx="436.15" cy="97.11" r="2.0"/><circle cx="436.78" cy="96.66" r="2.0"/><circle cx="437.39" cy="96.27" r="2.0"/><circle cx="437.98" cy="95.97" r="2.0"/><circle cx="438.54" cy="95.75" r="2.0"/><circle cx="439.09" cy="95.63" r="2.0"/><circle cx="439.61" cy="95.59" r="2.0"/><circle cx="444.08" cy="95.50" r="2.0"/><circle cx="447.54" cy="95.74" r="2.0"/><circle cx="450.37" cy="96.18" r="2.0"/><circle cx="452.76" cy="96.51" r="2.0"/><circle cx="454.84" cy="96.79" r="2.0"/><circle cx="456.66" cy="97.06" r="2.0"/><circle cx="458.30" cy="97.30" r="2.0"/></g>
<g fill="#000"><circle cx="493.30" cy="236.50" r="2.4"/><circle cx="504.06" cy="235.86" r="2.4"/><circle cx="510.35" cy="234.61" r="2.4"/><circle cx="514.82" cy="233.07" r="2.4"/><circle cx="518.28" cy="231.81" r="2.4"/><circle cx="521.11" cy="230.58" r="2.4"/><circle cx="523.50" cy="229.30" r="2.4"/><circle cx="525.58" cy="228.03" r="2.4"/><circle cx="527.40" cy="226.71" r="2.4"/><circle cx="529.04" cy="225.40" r="2.4"/><circle cx="530.52" cy="224.16" r="2.4"/><circle cx="531.87" cy="222.95" r="2.4"/><circle cx="533.11" cy="221.77" r="2.4"/><circle cx="534.26" cy="220.60" r="2.4"/><circle cx="535.33" cy="219.42" r="2.4"/><circle cx="536.34" cy="218.21" r="2.4"/><circle cx="537.28" cy="216.99" r="2.4"/><circle cx="538.16" cy="215.78" r="2.4"/><circle cx="539.00" cy="214.61" r="2.4"/><circle cx="539.80" cy="213.48" r="2.4"/><circle cx="540.56" cy="212.40" r="2.4"/><circle cx="541.28" cy="211.31" r="2.4"/><circle cx="541.97" cy="210.24" r="2.4"/><circle cx="542.63" cy="209.20" r="2.4"/><circle cx="543.26" cy="208.21" r="2.4"/><circle cx="543.87" cy="207.27" r="2.4"/><circle cx="544.46" cy="206.39" r="2.4"/><circle cx="545.02" cy="205.57" r="2.4"/><circle cx="545.57" cy="204.81" r="2.4"/><circle cx="546.09" cy="204.11" r="2.4"/><circle cx="550.56" cy="198.24" r="2.4"/><circle cx="554.02" cy="193.14" r="2.4"/><circle cx="556.85" cy="189.12" r="2.4"/><circle cx="559.24" cy="185.47" r="2.4"/><circle cx="561.32" cy="182.61" r="2.4"/><circle cx="563.14" cy="180.44" r="2.4"/><circle cx="564.78" cy="178.74" r="2.4"/><circle cx="566.26" cy="177.53" r="2.4"/><circle cx="567.61" cy="176.70" r="2.4"/><circle cx="568.85" cy="176.06" r="2.4"/><circle cx="570.00" cy="175.54" r="2.4"/><circle cx="571.07" cy="175.08" r="2.4"/><circle cx="572.08" cy="174.64" r="2.4"/><circle cx="573.02" cy="174.19" r="2.4"/><circle cx="573.90" cy="173.76" r="2.4"/><circle cx="574.74" cy="173.36" r="2.4"/><circle cx="575.54" cy="172.97" r="2.4"/><circle cx="576.30" cy="172.61" r="2.4"/><circle cx="577.02" cy="172.26" r="2.4"/><circle cx="577.71" cy="171.92" r="2.4"/><circle cx="578.37" cy="171.59" r="2.4"/><circle cx="579.00" cy="171.27" r="2.4"/><circle cx="579.61" cy="170.95" r="2.4"/><circle cx="580.20" cy="170.64" r="2.4"/><circle cx="580.76" cy="170.35" r="2.4"/><circle cx="581.31" cy="170.06" r="2.4"/><circle cx="581.83" cy="169.75" r="2.4"/><circle cx="586.30" cy="165.30" r="2.4"/><circle cx="589.76" cy="158.58" r="2.4"/><circle cx="592.59" cy="152.77" r="2.4"/><circle cx="594.98" cy="148.73" r="2.4"/><circle cx="597.06" cy="145.05" r="2.4"/><circle cx="598.88" cy="141.21" r="2.4"/><circle cx="600.52" cy="137.35" r="2.4"/><circle cx="602.00" cy="133.62" r="2.4"/><circle cx="603.35" cy="130.39" r="2.4"/><circle cx="604.59" cy="127.67" r="2.4"/><circle cx="605.74" cy="125.30" r="2.4"/><circle cx="606.81" cy="123.30" r="2.4"/><circle cx="607.82" cy="121.61" r="2.4"/><circle cx="608.76" cy="120.14" r="2.4"/><circle cx="609.64" cy="118.82" r="2.4"/><circle cx="610.48" cy="117.60" r="2.4"/><circle cx="611.28" cy="116.48" r="2.4"/><circle cx="612.04" cy="115.46" r="2.4"/><circle cx="612.76" cy="114.50" r="2.4"/><circle cx="613.45" cy="113.61" r="2.4"/><circle cx="614.11" cy="112.79" r="2.4"/><circle cx="614.74" cy="112.02" r="2.4"/><circle cx="615.35" cy="111.30" r="2.4"/><circle cx="615.94" cy="110.61" r="2.4"/><circle cx="616.50" cy="109.93" r="2.4"/><circle cx="617.05" cy="109.27" r="2.4"/><circle cx="617.57" cy="108.61" r="2.4"/><circle cx="622.04" cy="102.81" r="2.4"/><circle cx="625.50" cy="97.34" r="2.4"/><circle cx="628.33" cy="92.85" r="2.4"/><circle cx="630.72" cy="88.86" r="2.4"/><circle cx="632.80" cy="85.32" r="2.4"/><circle cx="634.62" cy="82.60" r="2.4"/><circle cx="636.26" cy="80.55" r="2.4"/><circle cx="637.74" cy="79.11" r="2.4"/><circle cx="639.09" cy="78.00" r="2.4"/><circle cx="640.33" cy="77.13" r="2.4"/><circle cx="641.48" cy="76.51" r="2.4"/><circle cx="642.55" cy="76.11" r="2.4"/><circle cx="643.56" cy="75.78" r="2.4"/><circle cx="644.50" cy="75.50" r="2.4"/><circle cx="645.38" cy="75.28" r="2.4"/><circle cx="646.22" cy="75.10" r="2.4"/><circle cx="647.02" cy="74.98" r="2.4"/><circle cx="647.78" cy="74.91" r="2.4"/><circle cx="648.50" cy="74.87" r="2.4"/><circle cx="649.19" cy="74.83" r="2.4"/><circle cx="649.85" cy="74.80" r="2.4"/><circle cx="650.48" cy="74.77" r="2.4"/><circle cx="651.09" cy="74.75" r="2.4"/><circle cx="651.68" cy="74.73" r="2.4"/><circle cx="652.24" cy="74.72" r="2.4"/><circle cx="652.79" cy="74.71" r="2.4"/><circle cx="653.31" cy="74.70" r="2.4"/><circle cx="657.78" cy="74.86" r="2.4"/><circle cx="661.24" cy="75.32" r="2.4"/><circle cx="664.07" cy="75.89" r="2.4"/><circle cx="666.46" cy="76.39" r="2.4"/><circle cx="668.54" cy="76.95" r="2.4"/><circle cx="670.36" cy="77.61" r="2.4"/><circle cx="672.00" cy="78.30" r="2.4"/></g>
<g fill="#fff" stroke="#000" stroke-width="1.05"><circle cx="493.30" cy="236.30" r="2.0"/><circle cx="504.06" cy="235.77" r="2.0"/><circle cx="510.35" cy="234.62" r="2.0"/><circle cx="514.82" cy="233.16" r="2.0"/><circle cx="518.28" cy="231.97" r="2.0"/><circle cx="521.11" cy="230.83" r="2.0"/><circle cx="523.50" cy="229.71" r="2.0"/><circle cx="525.58" cy="228.56" r="2.0"/><circle cx="527.40" cy="227.33" r="2.0"/><circle cx="529.04" cy="226.08" r="2.0"/><circle cx="530.52" cy="224.86" r="2.0"/><circle cx="531.87" cy="223.64" r="2.0"/><circle cx="533.11" cy="222.43" r="2.0"/><circle cx="534.26" cy="221.22" r="2.0"/><circle cx="535.33" cy="220.01" r="2.0"/><circle cx="536.34" cy="218.74" r="2.0"/><circle cx="537.28" cy="217.46" r="2.0"/><circle cx="538.16" cy="216.21" r="2.0"/><circle cx="539.00" cy="215.03" r="2.0"/><circle cx="539.80" cy="213.96" r="2.0"/><circle cx="540.56" cy="212.98" r="2.0"/><circle cx="541.28" cy="212.05" r="2.0"/><circle cx="541.97" cy="211.15" r="2.0"/><circle cx="542.63" cy="210.31" r="2.0"/><circle cx="543.26" cy="209.51" r="2.0"/><circle cx="543.87" cy="208.76" r="2.0"/><circle cx="544.46" cy="208.07" r="2.0"/><circle cx="545.02" cy="207.43" r="2.0"/><circle cx="545.57" cy="206.84" r="2.0"/><circle cx="546.09" cy="206.31" r="2.0"/><circle cx="550.56" cy="202.43" r="2.0"/><circle cx="554.02" cy="198.64" r="2.0"/><circle cx="556.85" cy="194.86" r="2.0"/><circle cx="559.24" cy="191.92" r="2.0"/><circle cx="561.32" cy="189.71" r="2.0"/><circle cx="563.14" cy="187.98" r="2.0"/><circle cx="564.78" cy="186.61" r="2.0"/><circle cx="566.26" cy="185.47" r="2.0"/><circle cx="567.61" cy="184.51" r="2.0"/><circle cx="568.85" cy="183.68" r="2.0"/><circle cx="570.00" cy="182.97" r="2.0"/><circle cx="571.07" cy="182.36" r="2.0"/><circle cx="572.08" cy="181.83" r="2.0"/><circle cx="573.02" cy="181.36" r="2.0"/><circle cx="573.90" cy="180.94" r="2.0"/><circle cx="574.74" cy="180.55" r="2.0"/><circle cx="575.54" cy="180.18" r="2.0"/><circle cx="576.30" cy="179.83" r="2.0"/><circle cx="577.02" cy="179.49" r="2.0"/><circle cx="577.71" cy="179.19" r="2.0"/><circle cx="578.37" cy="178.93" r="2.0"/><circle cx="579.00" cy="178.69" r="2.0"/><circle cx="579.61" cy="178.46" r="2.0"/><circle cx="580.20" cy="178.22" r="2.0"/><circle cx="580.76" cy="177.97" r="2.0"/><circle cx="581.31" cy="177.70" r="2.0"/><circle cx="581.83" cy="177.40" r="2.0"/><circle cx="586.30" cy="172.00" r="2.0"/><circle cx="589.76" cy="167.21" r="2.0"/><circle cx="592.59" cy="162.91" r="2.0"/><circle cx="594.98" cy="160.02" r="2.0"/><circle cx="597.06" cy="157.50" r="2.0"/><circle cx="598.88" cy="155.30" r="2.0"/><circle cx="600.52" cy="153.37" r="2.0"/><circle cx="602.00" cy="151.64" r="2.0"/><circle cx="603.35" cy="150.10" r="2.0"/><circle cx="604.59" cy="148.70" r="2.0"/><circle cx="605.74" cy="147.41" r="2.0"/><circle cx="606.81" cy="146.24" r="2.0"/><circle cx="607.82" cy="145.18" r="2.0"/><circle cx="608.76" cy="144.16" r="2.0"/><circle cx="609.64" cy="143.18" r="2.0"/><circle cx="610.48" cy="142.27" r="2.0"/><circle cx="611.28" cy="141.46" r="2.0"/><circle cx="612.04" cy="140.76" r="2.0"/><circle cx="612.76" cy="140.17" r="2.0"/><circle cx="613.45" cy="139.70" r="2.0"/><circle cx="614.11" cy="139.31" r="2.0"/><circle cx="614.74" cy="138.97" r="2.0"/><circle cx="615.35" cy="138.66" r="2.0"/><circle cx="615.94" cy="138.37" r="2.0"/><circle cx="616.50" cy="138.10" r="2.0"/><circle cx="617.05" cy="137.83" r="2.0"/><circle cx="617.57" cy="137.56" r="2.0"/><circle cx="622.04" cy="135.24" r="2.0"/><circle cx="625.50" cy="133.42" r="2.0"/><circle cx="628.33" cy="131.58" r="2.0"/><circle cx="630.72" cy="129.86" r="2.0"/><circle cx="632.80" cy="128.28" r="2.0"/><circle cx="634.62" cy="126.85" r="2.0"/><circle cx="636.26" cy="125.61" r="2.0"/><circle cx="637.74" cy="124.51" r="2.0"/><circle cx="639.09" cy="123.53" r="2.0"/><circle cx="640.33" cy="122.68" r="2.0"/><circle cx="641.48" cy="121.96" r="2.0"/><circle cx="642.55" cy="121.24" r="2.0"/><circle cx="643.56" cy="120.58" r="2.0"/><circle cx="644.50" cy="120.04" r="2.0"/><circle cx="645.38" cy="119.67" r="2.0"/><circle cx="646.22" cy="119.50" r="2.0"/><circle cx="647.02" cy="119.43" r="2.0"/><circle cx="647.78" cy="119.38" r="2.0"/><circle cx="648.50" cy="119.33" r="2.0"/><circle cx="649.19" cy="119.29" r="2.0"/><circle cx="649.85" cy="119.26" r="2.0"/><circle cx="650.48" cy="119.24" r="2.0"/><circle cx="651.09" cy="119.22" r="2.0"/><circle cx="651.68" cy="119.21" r="2.0"/><circle cx="652.24" cy="119.20" r="2.0"/><circle cx="652.79" cy="119.20" r="2.0"/><circle cx="653.31" cy="119.22" r="2.0"/><circle cx="657.78" cy="120.00" r="2.0"/><circle cx="661.24" cy="120.46" r="2.0"/><circle cx="664.07" cy="120.86" r="2.0"/><circle cx="666.46" cy="121.24" r="2.0"/><circle cx="668.54" cy="121.58" r="2.0"/><circle cx="670.36" cy="121.90" r="2.0"/><circle cx="672.00" cy="122.20" r="2.0"/></g>
<g fill="#000"><circle cx="64.50" cy="521.70" r="2.4"/><circle cx="75.26" cy="520.18" r="2.4"/><circle cx="81.55" cy="517.89" r="2.4"/><circle cx="86.02" cy="515.68" r="2.4"/><circle cx="89.48" cy="513.65" r="2.4"/><circle cx="92.31" cy="511.61" r="2.4"/><circle cx="94.70" cy="509.50" r="2.4"/><circle cx="96.78" cy="507.09" r="2.4"/><circle cx="98.60" cy="504.52" r="2.4"/><circle cx="100.24" cy="502.16" r="2.4"/><circle cx="101.72" cy="499.98" r="2.4"/><circle cx="103.07" cy="497.93" r="2.4"/><circle cx="104.31" cy="496.04" r="2.4"/><circle cx="105.46" cy="494.31" r="2.4"/><circle cx="106.53" cy="492.70" r="2.4"/><circle cx="107.54" cy="491.20" r="2.4"/><circle cx="108.48" cy="489.79" r="2.4"/><circle cx="109.36" cy="488.45" r="2.4"/><circle cx="110.20" cy="487.20" r="2.4"/><circle cx="111.00" cy="486.01" r="2.4"/><circle cx="111.76" cy="484.89" r="2.4"/><circle cx="112.48" cy="483.82" r="2.4"/><circle cx="113.17" cy="482.79" r="2.4"/><circle cx="113.83" cy="481.79" r="2.4"/><circle cx="114.46" cy="480.83" r="2.4"/><circle cx="115.07" cy="479.89" r="2.4"/><circle cx="115.66" cy="478.92" r="2.4"/><circle cx="116.22" cy="477.96" r="2.4"/><circle cx="116.77" cy="477.06" r="2.4"/><circle cx="117.29" cy="476.28" r="2.4"/><circle cx="121.76" cy="471.65" r="2.4"/><circle cx="125.22" cy="468.63" r="2.4"/><circle cx="128.05" cy="465.78" r="2.4"/><circle cx="130.44" cy="463.54" r="2.4"/><circle cx="132.52" cy="461.94" r="2.4"/><circle cx="134.34" cy="460.71" r="2.4"/><circle cx="135.98" cy="459.81" r="2.4"/><circle cx="137.46" cy="459.11" r="2.4"/><circle cx="138.81" cy="458.55" r="2.4"/><circle cx="140.05" cy="458.09" r="2.4"/><circle cx="141.20" cy="457.73" r="2.4"/><circle cx="142.27" cy="457.46" r="2.4"/><circle cx="143.28" cy="457.27" r="2.4"/><circle cx="144.22" cy="457.12" r="2.4"/><circle cx="145.10" cy="456.98" r="2.4"/><circle cx="145.94" cy="456.84" r="2.4"/><circle cx="146.74" cy="456.68" r="2.4"/><circle cx="147.50" cy="456.50" r="2.4"/><circle cx="148.22" cy="456.29" r="2.4"/><circle cx="148.91" cy="456.05" r="2.4"/><circle cx="149.57" cy="455.79" r="2.4"/><circle cx="150.20" cy="455.52" r="2.4"/><circle cx="150.81" cy="455.23" r="2.4"/><circle cx="151.40" cy="454.92" r="2.4"/><circle cx="151.96" cy="454.61" r="2.4"/><circle cx="152.51" cy="454.28" r="2.4"/><circle cx="153.03" cy="453.95" r="2.4"/><circle cx="157.50" cy="449.20" r="2.4"/><circle cx="160.96" cy="443.32" r="2.4"/><circle cx="163.79" cy="439.02" r="2.4"/><circle cx="166.18" cy="435.25" r="2.4"/><circle cx="168.26" cy="432.40" r="2.4"/><circle cx="170.08" cy="429.79" r="2.4"/><circle cx="171.72" cy="427.56" r="2.4"/><circle cx="173.20" cy="425.63" r="2.4"/><circle cx="174.55" cy="423.88" r="2.4"/><circle cx="175.79" cy="422.26" r="2.4"/><circle cx="176.94" cy="420.72" r="2.4"/><circle cx="178.01" cy="419.32" r="2.4"/><circle cx="179.02" cy="418.11" r="2.4"/><circle cx="179.96" cy="417.06" r="2.4"/><circle cx="180.84" cy="416.12" r="2.4"/><circle cx="181.68" cy="415.28" r="2.4"/><circle cx="182.48" cy="414.53" r="2.4"/><circle cx="183.24" cy="413.85" r="2.4"/><circle cx="183.96" cy="413.25" r="2.4"/><circle cx="184.65" cy="412.70" r="2.4"/><circle cx="185.31" cy="412.20" r="2.4"/><circle cx="185.94" cy="411.74" r="2.4"/><circle cx="186.55" cy="411.31" r="2.4"/><circle cx="187.14" cy="410.91" r="2.4"/><circle cx="187.70" cy="410.53" r="2.4"/><circle cx="188.25" cy="410.18" r="2.4"/><circle cx="188.77" cy="409.87" r="2.4"/><circle cx="193.24" cy="407.26" r="2.4"/><circle cx="196.70" cy="404.20" r="2.4"/><circle cx="199.53" cy="400.33" r="2.4"/><circle cx="201.92" cy="397.14" r="2.4"/><circle cx="204.00" cy="394.62" r="2.4"/><circle cx="205.82" cy="392.67" r="2.4"/><circle cx="207.46" cy="391.20" r="2.4"/><circle cx="208.94" cy="390.10" r="2.4"/><circle cx="210.29" cy="389.45" r="2.4"/><circle cx="211.53" cy="388.96" r="2.4"/><circle cx="212.68" cy="388.60" r="2.4"/><circle cx="213.75" cy="388.37" r="2.4"/><circle cx="214.76" cy="388.27" r="2.4"/><circle cx="215.70" cy="388.21" r="2.4"/><circle cx="216.58" cy="388.17" r="2.4"/><circle cx="217.42" cy="388.13" r="2.4"/><circle cx="218.22" cy="388.11" r="2.4"/><circle cx="218.98" cy="388.10" r="2.4"/><circle cx="219.70" cy="388.11" r="2.4"/><circle cx="220.39" cy="388.14" r="2.4"/><circle cx="221.05" cy="388.19" r="2.4"/><circle cx="221.68" cy="388.25" r="2.4"/><circle cx="222.29" cy="388.32" r="2.4"/><circle cx="222.88" cy="388.38" r="2.4"/><circle cx="223.44" cy="388.45" r="2.4"/><circle cx="223.99" cy="388.51" r="2.4"/><circle cx="224.51" cy="388.57" r="2.4"/><circle cx="228.98" cy="389.26" r="2.4"/><circle cx="232.44" cy="389.84" r="2.4"/><circle cx="235.27" cy="390.41" r="2.4"/><circle cx="237.66" cy="390.99" r="2.4"/><circle cx="239.74" cy="391.56" r="2.4"/><circle cx="241.56" cy="392.11" r="2.4"/><circle cx="243.20" cy="392.63" r="2.4"/></g>
<g fill="#fff" stroke="#000" stroke-width="1.05"><circle cx="64.50" cy="531.30" r="2.0"/><circle cx="75.26" cy="530.75" r="2.0"/><circle cx="81.55" cy="529.89" r="2.0"/><circle cx="86.02" cy="529.15" r="2.0"/><circle cx="89.48" cy="528.18" r="2.0"/><circle cx="92.31" cy="527.09" r="2.0"/><circle cx="94.70" cy="525.95" r="2.0"/><circle cx="96.78" cy="524.82" r="2.0"/><circle cx="98.60" cy="523.70" r="2.0"/><circle cx="100.24" cy="522.64" r="2.0"/><circle cx="101.72" cy="521.63" r="2.0"/><circle cx="103.07" cy="520.66" r="2.0"/><circle cx="104.31" cy="519.73" r="2.0"/><circle cx="105.46" cy="518.84" r="2.0"/><circle cx="106.53" cy="517.96" r="2.0"/><circle cx="107.54" cy="517.12" r="2.0"/><circle cx="108.48" cy="516.31" r="2.0"/><circle cx="109.36" cy="515.55" r="2.0"/><circle cx="110.20" cy="514.83" r="2.0"/><circle cx="111.00" cy="514.14" r="2.0"/><circle cx="111.76" cy="513.48" r="2.0"/><circle cx="112.48" cy="512.85" r="2.0"/><circle cx="113.17" cy="512.24" r="2.0"/><circle cx="113.83" cy="511.66" r="2.0"/><circle cx="114.46" cy="511.11" r="2.0"/><circle cx="115.07" cy="510.58" r="2.0"/><circle cx="115.66" cy="510.08" r="2.0"/><circle cx="116.22" cy="509.60" r="2.0"/><circle cx="116.77" cy="509.15" r="2.0"/><circle cx="117.29" cy="508.71" r="2.0"/><circle cx="121.76" cy="505.16" r="2.0"/><circle cx="125.22" cy="502.95" r="2.0"/><circle cx="128.05" cy="499.99" r="2.0"/><circle cx="130.44" cy="497.56" r="2.0"/><circle cx="132.52" cy="496.20" r="2.0"/><circle cx="134.34" cy="495.19" r="2.0"/><circle cx="135.98" cy="494.34" r="2.0"/><circle cx="137.46" cy="493.55" r="2.0"/><circle cx="138.81" cy="492.81" r="2.0"/><circle cx="140.05" cy="492.14" r="2.0"/><circle cx="141.20" cy="491.54" r="2.0"/><circle cx="142.27" cy="491.00" r="2.0"/><circle cx="143.28" cy="490.52" r="2.0"/><circle cx="144.22" cy="490.10" r="2.0"/><circle cx="145.10" cy="489.74" r="2.0"/><circle cx="145.94" cy="489.43" r="2.0"/><circle cx="146.74" cy="489.17" r="2.0"/><circle cx="147.50" cy="488.95" r="2.0"/><circle cx="148.22" cy="488.75" r="2.0"/><circle cx="148.91" cy="488.57" r="2.0"/><circle cx="149.57" cy="488.39" r="2.0"/><circle cx="150.20" cy="488.21" r="2.0"/><circle cx="150.81" cy="488.03" r="2.0"/><circle cx="151.40" cy="487.84" r="2.0"/><circle cx="151.96" cy="487.64" r="2.0"/><circle cx="152.51" cy="487.42" r="2.0"/><circle cx="153.03" cy="487.20" r="2.0"/><circle cx="157.50" cy="484.33" r="2.0"/><circle cx="160.96" cy="481.29" r="2.0"/><circle cx="163.79" cy="478.96" r="2.0"/><circle cx="166.18" cy="477.21" r="2.0"/><circle cx="168.26" cy="475.85" r="2.0"/><circle cx="170.08" cy="474.78" r="2.0"/><circle cx="171.72" cy="473.90" r="2.0"/><circle cx="173.20" cy="473.14" r="2.0"/><circle cx="174.55" cy="472.49" r="2.0"/><circle cx="175.79" cy="471.91" r="2.0"/><circle cx="176.94" cy="471.39" r="2.0"/><circle cx="178.01" cy="470.91" r="2.0"/><circle cx="179.02" cy="470.48" r="2.0"/><circle cx="179.96" cy="470.08" r="2.0"/><circle cx="180.84" cy="469.72" r="2.0"/><circle cx="181.68" cy="469.39" r="2.0"/><circle cx="182.48" cy="469.10" r="2.0"/><circle cx="183.24" cy="468.85" r="2.0"/><circle cx="183.96" cy="468.62" r="2.0"/><circle cx="184.65" cy="468.42" r="2.0"/><circle cx="185.31" cy="468.23" r="2.0"/><circle cx="185.94" cy="468.06" r="2.0"/><circle cx="186.55" cy="467.91" r="2.0"/><circle cx="187.14" cy="467.77" r="2.0"/><circle cx="187.70" cy="467.64" r="2.0"/><circle cx="188.25" cy="467.53" r="2.0"/><circle cx="188.77" cy="467.43" r="2.0"/><circle cx="193.24" cy="466.81" r="2.0"/><circle cx="196.70" cy="466.28" r="2.0"/><circle cx="199.53" cy="465.49" r="2.0"/><circle cx="201.92" cy="464.69" r="2.0"/><circle cx="204.00" cy="464.13" r="2.0"/><circle cx="205.82" cy="463.83" r="2.0"/><circle cx="207.46" cy="463.58" r="2.0"/><circle cx="208.94" cy="463.38" r="2.0"/><circle cx="210.29" cy="463.23" r="2.0"/><circle cx="211.53" cy="463.11" r="2.0"/><circle cx="212.68" cy="463.04" r="2.0"/><circle cx="213.75" cy="463.00" r="2.0"/><circle cx="214.76" cy="463.00" r="2.0"/><circle cx="215.70" cy="463.01" r="2.0"/><circle cx="216.58" cy="463.03" r="2.0"/><circle cx="217.42" cy="463.06" r="2.0"/><circle cx="218.22" cy="463.09" r="2.0"/><circle cx="218.98" cy="463.12" r="2.0"/><circle cx="219.70" cy="463.16" r="2.0"/><circle cx="220.39" cy="463.19" r="2.0"/><circle cx="221.05" cy="463.23" r="2.0"/><circle cx="221.68" cy="463.26" r="2.0"/><circle cx="222.29" cy="463.30" r="2.0"/><circle cx="222.88" cy="463.33" r="2.0"/><circle cx="223.44" cy="463.36" r="2.0"/><circle cx="223.99" cy="463.39" r="2.0"/><circle cx="224.51" cy="463.42" r="2.0"/><circle cx="228.98" cy="463.75" r="2.0"/><circle cx="232.44" cy="464.07" r="2.0"/><circle cx="235.27" cy="464.35" r="2.0"/><circle cx="237.66" cy="464.61" r="2.0"/><circle cx="239.74" cy="464.86" r="2.0"/><circle cx="241.56" cy="465.10" r="2.0"/><circle cx="243.20" cy="465.31" r="2.0"/></g>
<g fill="#000"><circle cx="279.60" cy="520.50" r="2.4"/><circle cx="290.36" cy="520.17" r="2.4"/><circle cx="296.65" cy="518.96" r="2.4"/><circle cx="301.12" cy="517.38" r="2.4"/><circle cx="304.58" cy="515.68" r="2.4"/><circle cx="307.41" cy="514.49" r="2.4"/><circle cx="309.80" cy="513.58" r="2.4"/><circle cx="311.88" cy="512.63" r="2.4"/><circle cx="313.70" cy="511.69" r="2.4"/><circle cx="315.34" cy="510.75" r="2.4"/><circle cx="316.82" cy="509.81" r="2.4"/><circle cx="318.17" cy="508.87" r="2.4"/><circle cx="319.41" cy="507.92" r="2.4"/><circle cx="320.56" cy="506.94" r="2.4"/><circle cx="321.63" cy="505.95" r="2.4"/><circle cx="322.64" cy="504.97" r="2.4"/><circle cx="323.58" cy="504.01" r="2.4"/><circle cx="324.46" cy="503.03" r="2.4"/><circle cx="325.30" cy="502.05" r="2.4"/><circle cx="326.10" cy="501.08" r="2.4"/><circle cx="326.86" cy="500.13" r="2.4"/><circle cx="327.58" cy="499.20" r="2.4"/><circle cx="328.27" cy="498.26" r="2.4"/><circle cx="328.93" cy="497.32" r="2.4"/><circle cx="329.56" cy="496.39" r="2.4"/><circle cx="330.17" cy="495.48" r="2.4"/><circle cx="330.76" cy="494.61" r="2.4"/><circle cx="331.32" cy="493.78" r="2.4"/><circle cx="331.87" cy="492.99" r="2.4"/><circle cx="332.39" cy="492.25" r="2.4"/><circle cx="336.86" cy="486.09" r="2.4"/><circle cx="340.32" cy="481.56" r="2.4"/><circle cx="343.15" cy="478.78" r="2.4"/><circle cx="345.54" cy="475.90" r="2.4"/><circle cx="347.62" cy="473.14" r="2.4"/><circle cx="349.44" cy="470.93" r="2.4"/><circle cx="351.08" cy="469.00" r="2.4"/><circle cx="352.56" cy="467.38" r="2.4"/><circle cx="353.91" cy="466.13" r="2.4"/><circle cx="355.15" cy="465.19" r="2.4"/><circle cx="356.30" cy="464.42" r="2.4"/><circle cx="357.37" cy="463.78" r="2.4"/><circle cx="358.38" cy="463.22" r="2.4"/><circle cx="359.32" cy="462.73" r="2.4"/><circle cx="360.20" cy="462.30" r="2.4"/><circle cx="361.04" cy="461.91" r="2.4"/><circle cx="361.84" cy="461.54" r="2.4"/><circle cx="362.60" cy="461.22" r="2.4"/><circle cx="363.32" cy="460.92" r="2.4"/><circle cx="364.01" cy="460.66" r="2.4"/><circle cx="364.67" cy="460.43" r="2.4"/><circle cx="365.30" cy="460.24" r="2.4"/><circle cx="365.91" cy="460.07" r="2.4"/><circle cx="366.50" cy="459.95" r="2.4"/><circle cx="367.06" cy="459.84" r="2.4"/><circle cx="367.61" cy="459.75" r="2.4"/><circle cx="368.13" cy="459.65" r="2.4"/><circle cx="372.60" cy="457.91" r="2.4"/><circle cx="376.06" cy="455.61" r="2.4"/><circle cx="378.89" cy="452.21" r="2.4"/><circle cx="381.28" cy="448.74" r="2.4"/><circle cx="383.36" cy="446.17" r="2.4"/><circle cx="385.18" cy="444.00" r="2.4"/><circle cx="386.82" cy="442.10" r="2.4"/><circle cx="388.30" cy="440.38" r="2.4"/><circle cx="389.65" cy="438.78" r="2.4"/><circle cx="390.89" cy="437.29" r="2.4"/><circle cx="392.04" cy="435.92" r="2.4"/><circle cx="393.11" cy="434.70" r="2.4"/><circle cx="394.12" cy="433.60" r="2.4"/><circle cx="395.06" cy="432.64" r="2.4"/><circle cx="395.94" cy="431.76" r="2.4"/><circle cx="396.78" cy="430.95" r="2.4"/><circle cx="397.58" cy="430.20" r="2.4"/><circle cx="398.34" cy="429.51" r="2.4"/><circle cx="399.06" cy="428.87" r="2.4"/><circle cx="399.75" cy="428.27" r="2.4"/><circle cx="400.41" cy="427.71" r="2.4"/><circle cx="401.04" cy="427.20" r="2.4"/><circle cx="401.65" cy="426.72" r="2.4"/><circle cx="402.24" cy="426.27" r="2.4"/><circle cx="402.80" cy="425.87" r="2.4"/><circle cx="403.35" cy="425.51" r="2.4"/><circle cx="403.87" cy="425.19" r="2.4"/><circle cx="408.34" cy="422.39" r="2.4"/><circle cx="411.80" cy="418.37" r="2.4"/><circle cx="414.63" cy="415.27" r="2.4"/><circle cx="417.02" cy="412.30" r="2.4"/><circle cx="419.10" cy="407.74" r="2.4"/><circle cx="420.92" cy="403.50" r="2.4"/><circle cx="422.56" cy="399.87" r="2.4"/><circle cx="424.04" cy="396.72" r="2.4"/><circle cx="425.39" cy="394.14" r="2.4"/><circle cx="426.63" cy="392.18" r="2.4"/><circle cx="427.78" cy="390.50" r="2.4"/><circle cx="428.85" cy="389.17" r="2.4"/><circle cx="429.86" cy="388.21" r="2.4"/><circle cx="430.80" cy="387.52" r="2.4"/><circle cx="431.68" cy="386.89" r="2.4"/><circle cx="432.52" cy="386.34" r="2.4"/><circle cx="433.32" cy="385.88" r="2.4"/><circle cx="434.08" cy="385.51" r="2.4"/><circle cx="434.80" cy="385.24" r="2.4"/><circle cx="435.49" cy="385.07" r="2.4"/><circle cx="436.15" cy="385.00" r="2.4"/><circle cx="436.78" cy="385.00" r="2.4"/><circle cx="437.39" cy="385.00" r="2.4"/><circle cx="437.98" cy="385.00" r="2.4"/><circle cx="438.54" cy="385.00" r="2.4"/><circle cx="439.09" cy="385.00" r="2.4"/><circle cx="439.61" cy="385.00" r="2.4"/><circle cx="444.08" cy="385.09" r="2.4"/><circle cx="447.54" cy="385.74" r="2.4"/><circle cx="450.37" cy="386.38" r="2.4"/><circle cx="452.76" cy="386.95" r="2.4"/><circle cx="454.84" cy="387.52" r="2.4"/><circle cx="456.66" cy="388.07" r="2.4"/><circle cx="458.30" cy="388.60" r="2.4"/></g>
<g fill="#fff" stroke="#000" stroke-width="1.05"><circle cx="279.60" cy="524.60" r="2.0"/><circle cx="290.36" cy="523.74" r="2.0"/><circle cx="296.65" cy="522.06" r="2.0"/><circle cx="301.12" cy="520.76" r="2.0"/><circle cx="304.58" cy="519.50" r="2.0"/><circle cx="307.41" cy="518.00" r="2.0"/><circle cx="309.80" cy="516.34" r="2.0"/><circle cx="311.88" cy="514.44" r="2.0"/><circle cx="313.70" cy="512.59" r="2.0"/><circle cx="315.34" cy="510.91" r="2.0"/><circle cx="316.82" cy="509.28" r="2.0"/><circle cx="318.17" cy="507.67" r="2.0"/><circle cx="319.41" cy="506.10" r="2.0"/><circle cx="320.56" cy="504.54" r="2.0"/><circle cx="321.63" cy="502.96" r="2.0"/><circle cx="322.64" cy="501.34" r="2.0"/><circle cx="323.58" cy="499.61" r="2.0"/><circle cx="324.46" cy="497.84" r="2.0"/><circle cx="325.30" cy="496.08" r="2.0"/><circle cx="326.10" cy="494.38" r="2.0"/><circle cx="326.86" cy="492.77" r="2.0"/><circle cx="327.58" cy="491.18" r="2.0"/><circle cx="328.27" cy="489.61" r="2.0"/><circle cx="328.93" cy="488.08" r="2.0"/><circle cx="329.56" cy="486.62" r="2.0"/><circle cx="330.17" cy="485.26" r="2.0"/><circle cx="330.76" cy="484.00" r="2.0"/><circle cx="331.32" cy="482.85" r="2.0"/><circle cx="331.87" cy="481.74" r="2.0"/><circle cx="332.39" cy="480.68" r="2.0"/><circle cx="336.86" cy="472.66" r="2.0"/><circle cx="340.32" cy="468.14" r="2.0"/><circle cx="343.15" cy="464.32" r="2.0"/><circle cx="345.54" cy="461.13" r="2.0"/><circle cx="347.62" cy="458.52" r="2.0"/><circle cx="349.44" cy="456.71" r="2.0"/><circle cx="351.08" cy="455.29" r="2.0"/><circle cx="352.56" cy="454.17" r="2.0"/><circle cx="353.91" cy="453.27" r="2.0"/><circle cx="355.15" cy="452.51" r="2.0"/><circle cx="356.30" cy="451.79" r="2.0"/><circle cx="357.37" cy="451.18" r="2.0"/><circle cx="358.38" cy="450.72" r="2.0"/><circle cx="359.32" cy="450.46" r="2.0"/><circle cx="360.20" cy="450.40" r="2.0"/><circle cx="361.04" cy="450.40" r="2.0"/><circle cx="361.84" cy="450.40" r="2.0"/><circle cx="362.60" cy="450.40" r="2.0"/><circle cx="363.32" cy="450.40" r="2.0"/><circle cx="364.01" cy="450.40" r="2.0"/><circle cx="364.67" cy="450.40" r="2.0"/><circle cx="365.30" cy="450.50" r="2.0"/><circle cx="365.91" cy="450.75" r="2.0"/><circle cx="366.50" cy="451.08" r="2.0"/><circle cx="367.06" cy="451.41" r="2.0"/><circle cx="367.61" cy="451.69" r="2.0"/><circle cx="368.13" cy="451.88" r="2.0"/><circle cx="372.60" cy="452.50" r="2.0"/><circle cx="376.06" cy="451.96" r="2.0"/><circle cx="378.89" cy="449.52" r="2.0"/><circle cx="381.28" cy="446.49" r="2.0"/><circle cx="383.36" cy="444.30" r="2.0"/><circle cx="385.18" cy="442.29" r="2.0"/><circle cx="386.82" cy="440.32" r="2.0"/><circle cx="388.30" cy="438.49" r="2.0"/><circle cx="389.65" cy="436.89" r="2.0"/><circle cx="390.89" cy="435.52" r="2.0"/><circle cx="392.04" cy="434.28" r="2.0"/><circle cx="393.11" cy="433.15" r="2.0"/><circle cx="394.12" cy="432.12" r="2.0"/><circle cx="395.06" cy="431.19" r="2.0"/><circle cx="395.94" cy="430.35" r="2.0"/><circle cx="396.78" cy="429.60" r="2.0"/><circle cx="397.58" cy="428.94" r="2.0"/><circle cx="398.34" cy="428.32" r="2.0"/><circle cx="399.06" cy="427.75" r="2.0"/><circle cx="399.75" cy="427.22" r="2.0"/><circle cx="400.41" cy="426.73" r="2.0"/><circle cx="401.04" cy="426.27" r="2.0"/><circle cx="401.65" cy="425.86" r="2.0"/><circle cx="402.24" cy="425.48" r="2.0"/><circle cx="402.80" cy="425.14" r="2.0"/><circle cx="403.35" cy="424.84" r="2.0"/><circle cx="403.87" cy="424.56" r="2.0"/><circle cx="408.34" cy="422.76" r="2.0"/><circle cx="411.80" cy="421.66" r="2.0"/><circle cx="414.63" cy="420.82" r="2.0"/><circle cx="417.02" cy="420.06" r="2.0"/><circle cx="419.10" cy="419.39" r="2.0"/><circle cx="420.92" cy="418.77" r="2.0"/><circle cx="422.56" cy="418.18" r="2.0"/><circle cx="424.04" cy="417.58" r="2.0"/><circle cx="425.39" cy="416.99" r="2.0"/><circle cx="426.63" cy="416.43" r="2.0"/><circle cx="427.78" cy="415.90" r="2.0"/><circle cx="428.85" cy="415.41" r="2.0"/><circle cx="429.86" cy="414.96" r="2.0"/><circle cx="430.80" cy="414.54" r="2.0"/><circle cx="431.68" cy="414.12" r="2.0"/><circle cx="432.52" cy="413.72" r="2.0"/><circle cx="433.32" cy="413.36" r="2.0"/><circle cx="434.08" cy="413.04" r="2.0"/><circle cx="434.80" cy="412.77" r="2.0"/><circle cx="435.49" cy="412.54" r="2.0"/><circle cx="436.15" cy="412.35" r="2.0"/><circle cx="436.78" cy="412.17" r="2.0"/><circle cx="437.39" cy="412.01" r="2.0"/><circle cx="437.98" cy="411.86" r="2.0"/><circle cx="438.54" cy="411.72" r="2.0"/><circle cx="439.09" cy="411.60" r="2.0"/><circle cx="439.61" cy="411.48" r="2.0"/><circle cx="444.08" cy="410.55" r="2.0"/><circle cx="447.54" cy="410.61" r="2.0"/><circle cx="450.37" cy="410.89" r="2.0"/><circle cx="452.76" cy="411.20" r="2.0"/><circle cx="454.84" cy="411.58" r="2.0"/><circle cx="456.66" cy="411.99" r="2.0"/><circle cx="458.30" cy="412.40" r="2.0"/></g>
<g fill="#000"><circle cx="493.30" cy="523.90" r="2.4"/><circle cx="504.06" cy="522.86" r="2.4"/><circle cx="510.35" cy="522.37" r="2.4"/><circle cx="514.82" cy="521.23" r="2.4"/><circle cx="518.28" cy="519.86" r="2.4"/><circle cx="521.11" cy="518.29" r="2.4"/><circle cx="523.50" cy="516.73" r="2.4"/><circle cx="525.58" cy="515.28" r="2.4"/><circle cx="527.40" cy="514.02" r="2.4"/><circle cx="529.04" cy="512.88" r="2.4"/><circle cx="530.52" cy="511.83" r="2.4"/><circle cx="531.87" cy="510.86" r="2.4"/><circle cx="533.11" cy="509.95" r="2.4"/><circle cx="534.26" cy="509.09" r="2.4"/><circle cx="535.33" cy="508.25" r="2.4"/><circle cx="536.34" cy="507.43" r="2.4"/><circle cx="537.28" cy="506.63" r="2.4"/><circle cx="538.16" cy="505.86" r="2.4"/><circle cx="539.00" cy="505.12" r="2.4"/><circle cx="539.80" cy="504.41" r="2.4"/><circle cx="540.56" cy="503.75" r="2.4"/><circle cx="541.28" cy="503.12" r="2.4"/><circle cx="541.97" cy="502.52" r="2.4"/><circle cx="542.63" cy="501.94" r="2.4"/><circle cx="543.26" cy="501.38" r="2.4"/><circle cx="543.87" cy="500.84" r="2.4"/><circle cx="544.46" cy="500.33" r="2.4"/><circle cx="545.02" cy="499.84" r="2.4"/><circle cx="545.57" cy="499.37" r="2.4"/><circle cx="546.09" cy="498.92" r="2.4"/><circle cx="550.56" cy="495.18" r="2.4"/><circle cx="554.02" cy="492.91" r="2.4"/><circle cx="556.85" cy="490.69" r="2.4"/><circle cx="559.24" cy="488.75" r="2.4"/><circle cx="561.32" cy="487.37" r="2.4"/><circle cx="563.14" cy="486.24" r="2.4"/><circle cx="564.78" cy="485.27" r="2.4"/><circle cx="566.26" cy="484.41" r="2.4"/><circle cx="567.61" cy="483.64" r="2.4"/><circle cx="568.85" cy="482.96" r="2.4"/><circle cx="570.00" cy="482.34" r="2.4"/><circle cx="571.07" cy="481.76" r="2.4"/><circle cx="572.08" cy="481.27" r="2.4"/><circle cx="573.02" cy="480.86" r="2.4"/><circle cx="573.90" cy="480.46" r="2.4"/><circle cx="574.74" cy="480.04" r="2.4"/><circle cx="575.54" cy="479.56" r="2.4"/><circle cx="576.30" cy="479.00" r="2.4"/><circle cx="577.02" cy="478.22" r="2.4"/><circle cx="577.71" cy="477.15" r="2.4"/><circle cx="578.37" cy="475.95" r="2.4"/><circle cx="579.00" cy="474.72" r="2.4"/><circle cx="579.61" cy="473.55" r="2.4"/><circle cx="580.20" cy="472.49" r="2.4"/><circle cx="580.76" cy="471.62" r="2.4"/><circle cx="581.31" cy="470.93" r="2.4"/><circle cx="581.83" cy="470.35" r="2.4"/><circle cx="586.30" cy="466.00" r="2.4"/><circle cx="589.76" cy="460.38" r="2.4"/><circle cx="592.59" cy="456.08" r="2.4"/><circle cx="594.98" cy="452.61" r="2.4"/><circle cx="597.06" cy="449.71" r="2.4"/><circle cx="598.88" cy="447.21" r="2.4"/><circle cx="600.52" cy="444.97" r="2.4"/><circle cx="602.00" cy="442.93" r="2.4"/><circle cx="603.35" cy="441.06" r="2.4"/><circle cx="604.59" cy="439.35" r="2.4"/><circle cx="605.74" cy="437.80" r="2.4"/><circle cx="606.81" cy="436.39" r="2.4"/><circle cx="607.82" cy="435.08" r="2.4"/><circle cx="608.76" cy="433.85" r="2.4"/><circle cx="609.64" cy="432.72" r="2.4"/><circle cx="610.48" cy="431.67" r="2.4"/><circle cx="611.28" cy="430.70" r="2.4"/><circle cx="612.04" cy="429.82" r="2.4"/><circle cx="612.76" cy="429.02" r="2.4"/><circle cx="613.45" cy="428.28" r="2.4"/><circle cx="614.11" cy="427.59" r="2.4"/><circle cx="614.74" cy="426.95" r="2.4"/><circle cx="615.35" cy="426.35" r="2.4"/><circle cx="615.94" cy="425.79" r="2.4"/><circle cx="616.50" cy="425.26" r="2.4"/><circle cx="617.05" cy="424.76" r="2.4"/><circle cx="617.57" cy="424.28" r="2.4"/><circle cx="622.04" cy="420.56" r="2.4"/><circle cx="625.50" cy="417.77" r="2.4"/><circle cx="628.33" cy="414.75" r="2.4"/><circle cx="630.72" cy="411.32" r="2.4"/><circle cx="632.80" cy="407.51" r="2.4"/><circle cx="634.62" cy="403.94" r="2.4"/><circle cx="636.26" cy="401.11" r="2.4"/><circle cx="637.74" cy="399.35" r="2.4"/><circle cx="639.09" cy="397.95" r="2.4"/><circle cx="640.33" cy="396.86" r="2.4"/><circle cx="641.48" cy="396.05" r="2.4"/><circle cx="642.55" cy="395.48" r="2.4"/><circle cx="643.56" cy="395.03" r="2.4"/><circle cx="644.50" cy="394.63" r="2.4"/><circle cx="645.38" cy="394.28" r="2.4"/><circle cx="646.22" cy="393.99" r="2.4"/><circle cx="647.02" cy="393.75" r="2.4"/><circle cx="647.78" cy="393.56" r="2.4"/><circle cx="648.50" cy="393.42" r="2.4"/><circle cx="649.19" cy="393.34" r="2.4"/><circle cx="649.85" cy="393.30" r="2.4"/><circle cx="650.48" cy="393.30" r="2.4"/><circle cx="651.09" cy="393.31" r="2.4"/><circle cx="651.68" cy="393.32" r="2.4"/><circle cx="652.24" cy="393.34" r="2.4"/><circle cx="652.79" cy="393.36" r="2.4"/><circle cx="653.31" cy="393.38" r="2.4"/><circle cx="657.78" cy="393.63" r="2.4"/><circle cx="661.24" cy="393.88" r="2.4"/><circle cx="664.07" cy="394.16" r="2.4"/><circle cx="666.46" cy="394.47" r="2.4"/><circle cx="668.54" cy="394.86" r="2.4"/><circle cx="670.36" cy="395.30" r="2.4"/><circle cx="672.00" cy="395.74" r="2.4"/></g>
<g fill="#fff" stroke="#000" stroke-width="1.05"><circle cx="493.30" cy="523.90" r="2.0"/><circle cx="504.06" cy="522.71" r="2.0"/><circle cx="510.35" cy="521.23" r="2.0"/><circle cx="514.82" cy="519.51" r="2.0"/><circle cx="518.28" cy="517.86" r="2.0"/><circle cx="521.11" cy="516.29" r="2.0"/><circle cx="523.50" cy="514.63" r="2.0"/><circle cx="525.58" cy="513.08" r="2.0"/><circle cx="527.40" cy="511.92" r="2.0"/><circle cx="529.04" cy="510.88" r="2.0"/><circle cx="530.52" cy="509.84" r="2.0"/><circle cx="531.87" cy="508.85" r="2.0"/><circle cx="533.11" cy="507.90" r="2.0"/><circle cx="534.26" cy="506.97" r="2.0"/><circle cx="535.33" cy="506.06" r="2.0"/><circle cx="536.34" cy="505.16" r="2.0"/><circle cx="537.28" cy="504.26" r="2.0"/><circle cx="538.16" cy="503.37" r="2.0"/><circle cx="539.00" cy="502.50" r="2.0"/><circle cx="539.80" cy="501.66" r="2.0"/><circle cx="540.56" cy="500.84" r="2.0"/><circle cx="541.28" cy="500.00" r="2.0"/><circle cx="541.97" cy="499.14" r="2.0"/><circle cx="542.63" cy="498.29" r="2.0"/><circle cx="543.26" cy="497.47" r="2.0"/><circle cx="543.87" cy="496.70" r="2.0"/><circle cx="544.46" cy="496.00" r="2.0"/><circle cx="545.02" cy="495.37" r="2.0"/><circle cx="545.57" cy="494.82" r="2.0"/><circle cx="546.09" cy="494.36" r="2.0"/><circle cx="550.56" cy="491.17" r="2.0"/><circle cx="554.02" cy="488.77" r="2.0"/><circle cx="556.85" cy="487.29" r="2.0"/><circle cx="559.24" cy="486.13" r="2.0"/><circle cx="561.32" cy="485.09" r="2.0"/><circle cx="563.14" cy="484.20" r="2.0"/><circle cx="564.78" cy="483.46" r="2.0"/><circle cx="566.26" cy="482.84" r="2.0"/><circle cx="567.61" cy="482.29" r="2.0"/><circle cx="568.85" cy="481.79" r="2.0"/><circle cx="570.00" cy="481.29" r="2.0"/><circle cx="571.07" cy="480.81" r="2.0"/><circle cx="572.08" cy="480.38" r="2.0"/><circle cx="573.02" cy="479.96" r="2.0"/><circle cx="573.90" cy="479.55" r="2.0"/><circle cx="574.74" cy="479.12" r="2.0"/><circle cx="575.54" cy="478.67" r="2.0"/><circle cx="576.30" cy="478.20" r="2.0"/><circle cx="577.02" cy="477.68" r="2.0"/><circle cx="577.71" cy="477.11" r="2.0"/><circle cx="578.37" cy="476.50" r="2.0"/><circle cx="579.00" cy="475.87" r="2.0"/><circle cx="579.61" cy="475.23" r="2.0"/><circle cx="580.20" cy="474.59" r="2.0"/><circle cx="580.76" cy="473.96" r="2.0"/><circle cx="581.31" cy="473.34" r="2.0"/><circle cx="581.83" cy="472.75" r="2.0"/><circle cx="586.30" cy="467.36" r="2.0"/><circle cx="589.76" cy="462.85" r="2.0"/><circle cx="592.59" cy="459.05" r="2.0"/><circle cx="594.98" cy="455.78" r="2.0"/><circle cx="597.06" cy="452.91" r="2.0"/><circle cx="598.88" cy="450.45" r="2.0"/><circle cx="600.52" cy="448.31" r="2.0"/><circle cx="602.00" cy="446.40" r="2.0"/><circle cx="603.35" cy="444.72" r="2.0"/><circle cx="604.59" cy="443.26" r="2.0"/><circle cx="605.74" cy="441.98" r="2.0"/><circle cx="606.81" cy="440.83" r="2.0"/><circle cx="607.82" cy="439.80" r="2.0"/><circle cx="608.76" cy="438.86" r="2.0"/><circle cx="609.64" cy="438.01" r="2.0"/><circle cx="610.48" cy="437.25" r="2.0"/><circle cx="611.28" cy="436.56" r="2.0"/><circle cx="612.04" cy="435.94" r="2.0"/><circle cx="612.76" cy="435.37" r="2.0"/><circle cx="613.45" cy="434.84" r="2.0"/><circle cx="614.11" cy="434.36" r="2.0"/><circle cx="614.74" cy="433.90" r="2.0"/><circle cx="615.35" cy="433.46" r="2.0"/><circle cx="615.94" cy="433.05" r="2.0"/><circle cx="616.50" cy="432.65" r="2.0"/><circle cx="617.05" cy="432.27" r="2.0"/><circle cx="617.57" cy="431.90" r="2.0"/><circle cx="622.04" cy="428.95" r="2.0"/><circle cx="625.50" cy="426.69" r="2.0"/><circle cx="628.33" cy="425.06" r="2.0"/><circle cx="630.72" cy="423.93" r="2.0"/><circle cx="632.80" cy="422.97" r="2.0"/><circle cx="634.62" cy="422.02" r="2.0"/><circle cx="636.26" cy="420.94" r="2.0"/><circle cx="637.74" cy="419.77" r="2.0"/><circle cx="639.09" cy="418.66" r="2.0"/><circle cx="640.33" cy="417.73" r="2.0"/><circle cx="641.48" cy="417.01" r="2.0"/><circle cx="642.55" cy="416.35" r="2.0"/><circle cx="643.56" cy="415.76" r="2.0"/><circle cx="644.50" cy="415.24" r="2.0"/><circle cx="645.38" cy="414.83" r="2.0"/><circle cx="646.22" cy="414.51" r="2.0"/><circle cx="647.02" cy="414.30" r="2.0"/><circle cx="647.78" cy="414.14" r="2.0"/><circle cx="648.50" cy="414.00" r="2.0"/><circle cx="649.19" cy="413.87" r="2.0"/><circle cx="649.85" cy="413.76" r="2.0"/><circle cx="650.48" cy="413.68" r="2.0"/><circle cx="651.09" cy="413.60" r="2.0"/><circle cx="651.68" cy="413.55" r="2.0"/><circle cx="652.24" cy="413.52" r="2.0"/><circle cx="652.79" cy="413.50" r="2.0"/><circle cx="653.31" cy="413.50" r="2.0"/><circle cx="657.78" cy="413.77" r="2.0"/><circle cx="661.24" cy="414.16" r="2.0"/><circle cx="664.07" cy="414.55" r="2.0"/><circle cx="666.46" cy="414.99" r="2.0"/><circle cx="668.54" cy="415.45" r="2.0"/><circle cx="670.36" cy="415.91" r="2.0"/><circle cx="672.00" cy="416.34" r="2.0"/></g>
<circle cx="168.9" cy="237.8" r="2.3" fill="#000"/>
<circle cx="168.9" cy="255.7" r="2.0" fill="#fff" stroke="#000" stroke-width="0.9"/>
<text x="193.0" y="242.5" font-size="14" fill="#000">control</text>
<text x="193.0" y="260.0" font-size="14" fill="#000">heat</text>
<circle cx="333.8" cy="238.1" r="2.3" fill="#000"/>
<circle cx="333.8" cy="255.4" r="2.0" fill="#fff" stroke="#000" stroke-width="0.9"/>
<text x="358.3" y="242.5" font-size="14" fill="#000">control</text>
<text x="358.3" y="260.0" font-size="14" fill="#000">low temperature</text>
<circle cx="592.3" cy="237.8" r="2.3" fill="#000"/>
<circle cx="592.3" cy="255.7" r="2.0" fill="#fff" stroke="#000" stroke-width="0.9"/>
<text x="616.2" y="242.7" font-size="14" fill="#000">control</text>
<text x="616.2" y="260.2" font-size="14" fill="#000">drought</text>
<circle cx="173.8" cy="519.1" r="2.3" fill="#000"/>
<circle cx="173.8" cy="536.3" r="2.0" fill="#fff" stroke="#000" stroke-width="0.9"/>
<text x="197.9" y="523.5" font-size="14" fill="#000">control</text>
<text x="197.9" y="540.7" font-size="14" fill="#000">+ NaCl</text>
<circle cx="364.4" cy="521.6" r="2.3" fill="#000"/>
<circle cx="364.4" cy="538.6" r="2.0" fill="#fff" stroke="#000" stroke-width="0.9"/>
<text x="388.5" y="526.4" font-size="14" fill="#000">control</text>
<text x="388.5" y="543.3" font-size="14" fill="#000">low nitrogen</text>
<circle cx="601.9" cy="521.5" r="2.3" fill="#000"/>
<circle cx="601.9" cy="538.9" r="2.0" fill="#fff" stroke="#000" stroke-width="0.9"/>
<text x="626.2" y="526.3" font-size="14" fill="#000">control</text>
<text x="626.2" y="543.5" font-size="14" fill="#000">+ Pb</text>
</svg></body></html>
